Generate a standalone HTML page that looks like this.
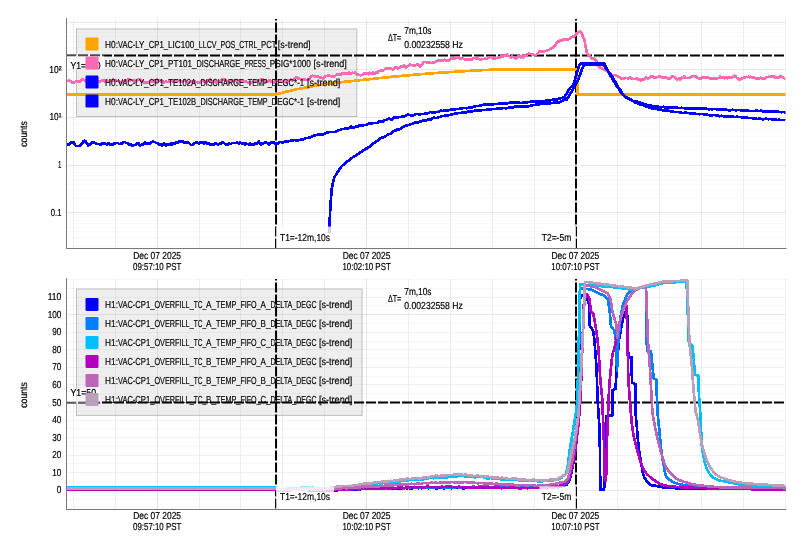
<!DOCTYPE html>
<html><head><meta charset="utf-8"><title>ndscope</title>
<style>html,body{margin:0;padding:0;background:#fff}svg{display:block;will-change:transform}</style></head>
<body>
<svg width="804" height="551" viewBox="0 0 804 551" font-family="Liberation Sans, Arial, sans-serif" text-rendering="geometricPrecision">
<rect width="804" height="551" fill="#fff"/>
<g id="gridTop">
<line x1="785.5" y1="19.0" x2="785.5" y2="248.0" stroke="#000" stroke-opacity="0.065" stroke-width="1"/>
<line x1="743.5" y1="19.0" x2="743.5" y2="248.0" stroke="#000" stroke-opacity="0.065" stroke-width="1"/>
<line x1="701.5" y1="19.0" x2="701.5" y2="248.0" stroke="#000" stroke-opacity="0.065" stroke-width="1"/>
<line x1="659.5" y1="19.0" x2="659.5" y2="248.0" stroke="#000" stroke-opacity="0.065" stroke-width="1"/>
<line x1="617.5" y1="19.0" x2="617.5" y2="248.0" stroke="#000" stroke-opacity="0.065" stroke-width="1"/>
<line x1="575.5" y1="19.0" x2="575.5" y2="248.0" stroke="#000" stroke-opacity="0.1" stroke-width="1"/>
<line x1="534.5" y1="19.0" x2="534.5" y2="248.0" stroke="#000" stroke-opacity="0.065" stroke-width="1"/>
<line x1="492.5" y1="19.0" x2="492.5" y2="248.0" stroke="#000" stroke-opacity="0.065" stroke-width="1"/>
<line x1="450.5" y1="19.0" x2="450.5" y2="248.0" stroke="#000" stroke-opacity="0.065" stroke-width="1"/>
<line x1="408.5" y1="19.0" x2="408.5" y2="248.0" stroke="#000" stroke-opacity="0.065" stroke-width="1"/>
<line x1="366.5" y1="19.0" x2="366.5" y2="248.0" stroke="#000" stroke-opacity="0.1" stroke-width="1"/>
<line x1="324.5" y1="19.0" x2="324.5" y2="248.0" stroke="#000" stroke-opacity="0.065" stroke-width="1"/>
<line x1="282.5" y1="19.0" x2="282.5" y2="248.0" stroke="#000" stroke-opacity="0.065" stroke-width="1"/>
<line x1="240.5" y1="19.0" x2="240.5" y2="248.0" stroke="#000" stroke-opacity="0.065" stroke-width="1"/>
<line x1="199.5" y1="19.0" x2="199.5" y2="248.0" stroke="#000" stroke-opacity="0.065" stroke-width="1"/>
<line x1="157.5" y1="19.0" x2="157.5" y2="248.0" stroke="#000" stroke-opacity="0.1" stroke-width="1"/>
<line x1="115.5" y1="19.0" x2="115.5" y2="248.0" stroke="#000" stroke-opacity="0.065" stroke-width="1"/>
<line x1="73.5" y1="19.0" x2="73.5" y2="248.0" stroke="#000" stroke-opacity="0.065" stroke-width="1"/>
<line x1="67.0" y1="246.5" x2="785.5" y2="246.5" stroke="#000" stroke-opacity="0.018" stroke-width="1"/>
<line x1="67.0" y1="237.5" x2="785.5" y2="237.5" stroke="#000" stroke-opacity="0.018" stroke-width="1"/>
<line x1="67.0" y1="231.5" x2="785.5" y2="231.5" stroke="#000" stroke-opacity="0.018" stroke-width="1"/>
<line x1="67.0" y1="227.5" x2="785.5" y2="227.5" stroke="#000" stroke-opacity="0.018" stroke-width="1"/>
<line x1="67.0" y1="223.5" x2="785.5" y2="223.5" stroke="#000" stroke-opacity="0.018" stroke-width="1"/>
<line x1="67.0" y1="220.5" x2="785.5" y2="220.5" stroke="#000" stroke-opacity="0.018" stroke-width="1"/>
<line x1="67.0" y1="217.5" x2="785.5" y2="217.5" stroke="#000" stroke-opacity="0.018" stroke-width="1"/>
<line x1="67.0" y1="214.5" x2="785.5" y2="214.5" stroke="#000" stroke-opacity="0.018" stroke-width="1"/>
<line x1="67.0" y1="198.5" x2="785.5" y2="198.5" stroke="#000" stroke-opacity="0.018" stroke-width="1"/>
<line x1="67.0" y1="190.5" x2="785.5" y2="190.5" stroke="#000" stroke-opacity="0.018" stroke-width="1"/>
<line x1="67.0" y1="184.5" x2="785.5" y2="184.5" stroke="#000" stroke-opacity="0.018" stroke-width="1"/>
<line x1="67.0" y1="179.5" x2="785.5" y2="179.5" stroke="#000" stroke-opacity="0.018" stroke-width="1"/>
<line x1="67.0" y1="175.5" x2="785.5" y2="175.5" stroke="#000" stroke-opacity="0.018" stroke-width="1"/>
<line x1="67.0" y1="172.5" x2="785.5" y2="172.5" stroke="#000" stroke-opacity="0.018" stroke-width="1"/>
<line x1="67.0" y1="169.5" x2="785.5" y2="169.5" stroke="#000" stroke-opacity="0.018" stroke-width="1"/>
<line x1="67.0" y1="167.5" x2="785.5" y2="167.5" stroke="#000" stroke-opacity="0.018" stroke-width="1"/>
<line x1="67.0" y1="150.5" x2="785.5" y2="150.5" stroke="#000" stroke-opacity="0.018" stroke-width="1"/>
<line x1="67.0" y1="142.5" x2="785.5" y2="142.5" stroke="#000" stroke-opacity="0.018" stroke-width="1"/>
<line x1="67.0" y1="136.5" x2="785.5" y2="136.5" stroke="#000" stroke-opacity="0.018" stroke-width="1"/>
<line x1="67.0" y1="131.5" x2="785.5" y2="131.5" stroke="#000" stroke-opacity="0.018" stroke-width="1"/>
<line x1="67.0" y1="128.5" x2="785.5" y2="128.5" stroke="#000" stroke-opacity="0.018" stroke-width="1"/>
<line x1="67.0" y1="124.5" x2="785.5" y2="124.5" stroke="#000" stroke-opacity="0.018" stroke-width="1"/>
<line x1="67.0" y1="122.5" x2="785.5" y2="122.5" stroke="#000" stroke-opacity="0.018" stroke-width="1"/>
<line x1="67.0" y1="119.5" x2="785.5" y2="119.5" stroke="#000" stroke-opacity="0.018" stroke-width="1"/>
<line x1="67.0" y1="103.5" x2="785.5" y2="103.5" stroke="#000" stroke-opacity="0.018" stroke-width="1"/>
<line x1="67.0" y1="94.5" x2="785.5" y2="94.5" stroke="#000" stroke-opacity="0.018" stroke-width="1"/>
<line x1="67.0" y1="88.5" x2="785.5" y2="88.5" stroke="#000" stroke-opacity="0.018" stroke-width="1"/>
<line x1="67.0" y1="84.5" x2="785.5" y2="84.5" stroke="#000" stroke-opacity="0.018" stroke-width="1"/>
<line x1="67.0" y1="80.5" x2="785.5" y2="80.5" stroke="#000" stroke-opacity="0.018" stroke-width="1"/>
<line x1="67.0" y1="77.5" x2="785.5" y2="77.5" stroke="#000" stroke-opacity="0.018" stroke-width="1"/>
<line x1="67.0" y1="74.5" x2="785.5" y2="74.5" stroke="#000" stroke-opacity="0.018" stroke-width="1"/>
<line x1="67.0" y1="72.5" x2="785.5" y2="72.5" stroke="#000" stroke-opacity="0.018" stroke-width="1"/>
<line x1="67.0" y1="55.5" x2="785.5" y2="55.5" stroke="#000" stroke-opacity="0.018" stroke-width="1"/>
<line x1="67.0" y1="47.5" x2="785.5" y2="47.5" stroke="#000" stroke-opacity="0.018" stroke-width="1"/>
<line x1="67.0" y1="41.5" x2="785.5" y2="41.5" stroke="#000" stroke-opacity="0.018" stroke-width="1"/>
<line x1="67.0" y1="36.5" x2="785.5" y2="36.5" stroke="#000" stroke-opacity="0.018" stroke-width="1"/>
<line x1="67.0" y1="32.5" x2="785.5" y2="32.5" stroke="#000" stroke-opacity="0.018" stroke-width="1"/>
<line x1="67.0" y1="29.5" x2="785.5" y2="29.5" stroke="#000" stroke-opacity="0.018" stroke-width="1"/>
<line x1="67.0" y1="27.5" x2="785.5" y2="27.5" stroke="#000" stroke-opacity="0.018" stroke-width="1"/>
<line x1="67.0" y1="24.5" x2="785.5" y2="24.5" stroke="#000" stroke-opacity="0.018" stroke-width="1"/>
<line x1="67.0" y1="22.5" x2="785.5" y2="22.5" stroke="#000" stroke-opacity="0.085" stroke-width="1"/>
<line x1="67.0" y1="69.5" x2="785.5" y2="69.5" stroke="#000" stroke-opacity="0.085" stroke-width="1"/>
<line x1="67.0" y1="117.5" x2="785.5" y2="117.5" stroke="#000" stroke-opacity="0.085" stroke-width="1"/>
<line x1="67.0" y1="165.5" x2="785.5" y2="165.5" stroke="#000" stroke-opacity="0.085" stroke-width="1"/>
<line x1="67.0" y1="212.5" x2="785.5" y2="212.5" stroke="#000" stroke-opacity="0.085" stroke-width="1"/>
</g>
<g id="gridBot">
<line x1="785.5" y1="279.0" x2="785.5" y2="509.0" stroke="#000" stroke-opacity="0.065" stroke-width="1"/>
<line x1="743.5" y1="279.0" x2="743.5" y2="509.0" stroke="#000" stroke-opacity="0.065" stroke-width="1"/>
<line x1="701.5" y1="279.0" x2="701.5" y2="509.0" stroke="#000" stroke-opacity="0.065" stroke-width="1"/>
<line x1="659.5" y1="279.0" x2="659.5" y2="509.0" stroke="#000" stroke-opacity="0.065" stroke-width="1"/>
<line x1="617.5" y1="279.0" x2="617.5" y2="509.0" stroke="#000" stroke-opacity="0.065" stroke-width="1"/>
<line x1="575.5" y1="279.0" x2="575.5" y2="509.0" stroke="#000" stroke-opacity="0.1" stroke-width="1"/>
<line x1="534.5" y1="279.0" x2="534.5" y2="509.0" stroke="#000" stroke-opacity="0.065" stroke-width="1"/>
<line x1="492.5" y1="279.0" x2="492.5" y2="509.0" stroke="#000" stroke-opacity="0.065" stroke-width="1"/>
<line x1="450.5" y1="279.0" x2="450.5" y2="509.0" stroke="#000" stroke-opacity="0.065" stroke-width="1"/>
<line x1="408.5" y1="279.0" x2="408.5" y2="509.0" stroke="#000" stroke-opacity="0.065" stroke-width="1"/>
<line x1="366.5" y1="279.0" x2="366.5" y2="509.0" stroke="#000" stroke-opacity="0.1" stroke-width="1"/>
<line x1="324.5" y1="279.0" x2="324.5" y2="509.0" stroke="#000" stroke-opacity="0.065" stroke-width="1"/>
<line x1="282.5" y1="279.0" x2="282.5" y2="509.0" stroke="#000" stroke-opacity="0.065" stroke-width="1"/>
<line x1="240.5" y1="279.0" x2="240.5" y2="509.0" stroke="#000" stroke-opacity="0.065" stroke-width="1"/>
<line x1="199.5" y1="279.0" x2="199.5" y2="509.0" stroke="#000" stroke-opacity="0.065" stroke-width="1"/>
<line x1="157.5" y1="279.0" x2="157.5" y2="509.0" stroke="#000" stroke-opacity="0.1" stroke-width="1"/>
<line x1="115.5" y1="279.0" x2="115.5" y2="509.0" stroke="#000" stroke-opacity="0.065" stroke-width="1"/>
<line x1="73.5" y1="279.0" x2="73.5" y2="509.0" stroke="#000" stroke-opacity="0.065" stroke-width="1"/>
<line x1="67.0" y1="499.5" x2="785.5" y2="499.5" stroke="#000" stroke-opacity="0.03" stroke-width="1"/>
<line x1="67.0" y1="481.5" x2="785.5" y2="481.5" stroke="#000" stroke-opacity="0.03" stroke-width="1"/>
<line x1="67.0" y1="463.5" x2="785.5" y2="463.5" stroke="#000" stroke-opacity="0.03" stroke-width="1"/>
<line x1="67.0" y1="446.5" x2="785.5" y2="446.5" stroke="#000" stroke-opacity="0.03" stroke-width="1"/>
<line x1="67.0" y1="428.5" x2="785.5" y2="428.5" stroke="#000" stroke-opacity="0.03" stroke-width="1"/>
<line x1="67.0" y1="411.5" x2="785.5" y2="411.5" stroke="#000" stroke-opacity="0.03" stroke-width="1"/>
<line x1="67.0" y1="393.5" x2="785.5" y2="393.5" stroke="#000" stroke-opacity="0.03" stroke-width="1"/>
<line x1="67.0" y1="376.5" x2="785.5" y2="376.5" stroke="#000" stroke-opacity="0.03" stroke-width="1"/>
<line x1="67.0" y1="358.5" x2="785.5" y2="358.5" stroke="#000" stroke-opacity="0.03" stroke-width="1"/>
<line x1="67.0" y1="341.5" x2="785.5" y2="341.5" stroke="#000" stroke-opacity="0.03" stroke-width="1"/>
<line x1="67.0" y1="323.5" x2="785.5" y2="323.5" stroke="#000" stroke-opacity="0.03" stroke-width="1"/>
<line x1="67.0" y1="305.5" x2="785.5" y2="305.5" stroke="#000" stroke-opacity="0.03" stroke-width="1"/>
<line x1="67.0" y1="288.5" x2="785.5" y2="288.5" stroke="#000" stroke-opacity="0.03" stroke-width="1"/>
<line x1="67.0" y1="507.5" x2="785.5" y2="507.5" stroke="#000" stroke-opacity="0.03" stroke-width="1"/>
<line x1="67.0" y1="279.5" x2="785.5" y2="279.5" stroke="#000" stroke-opacity="0.03" stroke-width="1"/>
<line x1="67.0" y1="472.5" x2="785.5" y2="472.5" stroke="#000" stroke-opacity="0.05" stroke-width="1"/>
<line x1="67.0" y1="455.5" x2="785.5" y2="455.5" stroke="#000" stroke-opacity="0.05" stroke-width="1"/>
<line x1="67.0" y1="437.5" x2="785.5" y2="437.5" stroke="#000" stroke-opacity="0.05" stroke-width="1"/>
<line x1="67.0" y1="420.5" x2="785.5" y2="420.5" stroke="#000" stroke-opacity="0.05" stroke-width="1"/>
<line x1="67.0" y1="402.5" x2="785.5" y2="402.5" stroke="#000" stroke-opacity="0.05" stroke-width="1"/>
<line x1="67.0" y1="384.5" x2="785.5" y2="384.5" stroke="#000" stroke-opacity="0.05" stroke-width="1"/>
<line x1="67.0" y1="367.5" x2="785.5" y2="367.5" stroke="#000" stroke-opacity="0.05" stroke-width="1"/>
<line x1="67.0" y1="349.5" x2="785.5" y2="349.5" stroke="#000" stroke-opacity="0.05" stroke-width="1"/>
<line x1="67.0" y1="332.5" x2="785.5" y2="332.5" stroke="#000" stroke-opacity="0.05" stroke-width="1"/>
<line x1="67.0" y1="297.5" x2="785.5" y2="297.5" stroke="#000" stroke-opacity="0.05" stroke-width="1"/>
<line x1="67.0" y1="490.5" x2="785.5" y2="490.5" stroke="#000" stroke-opacity="0.085" stroke-width="1"/>
<line x1="67.0" y1="314.5" x2="785.5" y2="314.5" stroke="#000" stroke-opacity="0.085" stroke-width="1"/>
</g>
<rect x="76.5" y="29.0" width="280.3" height="87.5" fill="#c6c6c6" fill-opacity="0.3" stroke="#bebebe" stroke-width="1"/>
<rect x="76.5" y="289.0" width="285.6" height="126.4" fill="#c6c6c6" fill-opacity="0.3" stroke="#bebebe" stroke-width="1"/>
<line x1="67.0" y1="55.5" x2="784.5" y2="55.5" stroke="#000" stroke-width="2" stroke-dasharray="10 2" stroke-dashoffset="1"/>
<line x1="67.0" y1="402.6" x2="784.5" y2="402.6" stroke="#000" stroke-width="2" stroke-dasharray="10 2" stroke-dashoffset="1"/>
<line x1="276.05" y1="19.0" x2="276.05" y2="248.0" stroke="#000" stroke-width="2" stroke-dasharray="10 2" stroke-dashoffset="8.5"/>
<line x1="576.0" y1="19.0" x2="576.0" y2="248.0" stroke="#000" stroke-width="2" stroke-dasharray="10 2" stroke-dashoffset="8.5"/>
<line x1="276.05" y1="279.0" x2="276.05" y2="509.0" stroke="#000" stroke-width="2" stroke-dasharray="10 2" stroke-dashoffset="8.5"/>
<line x1="576.0" y1="279.0" x2="576.0" y2="509.0" stroke="#000" stroke-width="2" stroke-dasharray="10 2" stroke-dashoffset="8.5"/>
<clipPath id="ct"><rect x="67.0" y="19.0" width="718.5" height="229.0"/></clipPath>
<g clip-path="url(#ct)">
<path d="M67.0 94.5 L276.0 94.5 L287.0 91.5 L298.0 89.0 L320.0 84.8 L345.0 81.8 L369.5 79.2 L394.0 76.6 L419.0 74.3 L440.0 72.7 L460.0 71.5 L475.0 70.5 L490.0 69.8 L577.0 69.8 L577.6 94.5 L785.5 94.5" fill="none" stroke="#ffa500" stroke-width="2.7" stroke-linejoin="round" shape-rendering="crispEdges" />
<path d="M67.0 81.2 L68.0 80.8 L69.0 80.5 L70.0 81.1 L71.0 81.5 L72.0 82.4 L73.0 82.6 L74.0 82.3 L75.0 82.2 L76.0 80.9 L77.0 81.2 L78.0 81.2 L79.0 81.4 L80.0 81.4 L81.0 80.1 L82.0 79.5 L83.0 79.0 L84.0 79.9 L85.0 80.8 L86.0 81.4 L87.0 81.3 L88.0 81.3 L89.0 81.5 L90.0 81.0 L91.0 82.1 L92.0 82.2 L93.0 82.6 L94.0 82.6 L95.0 81.4 L96.0 81.0 L97.0 80.4 L98.0 81.0 L99.0 81.5 L100.0 81.4 L101.0 81.0 L102.0 80.5 L103.0 80.9 L104.0 80.7 L105.0 81.3 L106.0 81.8 L107.0 80.5 L108.0 80.9 L109.0 81.4 L110.0 80.2 L111.0 80.8 L112.0 80.7 L113.0 79.7 L114.0 80.9 L115.0 81.0 L116.0 80.4 L117.0 81.1 L118.0 81.2 L119.0 81.7 L120.0 83.1 L121.0 82.8 L122.0 82.6 L123.0 81.5 L124.0 81.1 L125.0 80.7 L126.0 80.4 L127.0 80.4 L128.0 79.6 L129.0 79.7 L130.0 80.5 L131.0 80.1 L132.0 79.9 L133.0 80.3 L134.0 80.3 L135.0 81.6 L136.0 81.4 L137.0 80.1 L138.0 79.5 L139.0 78.9 L140.0 79.3 L141.0 80.9 L142.0 81.3 L143.0 81.7 L144.0 82.4 L145.0 82.1 L146.0 82.3 L147.0 82.6 L148.0 82.7 L149.0 82.7 L150.0 81.2 L151.0 81.5 L152.0 81.8 L153.0 81.7 L154.0 81.6 L155.0 80.6 L156.0 80.6 L157.0 79.5 L158.0 80.3 L159.0 81.1 L160.0 80.1 L161.0 81.7 L162.0 82.1 L163.0 81.5 L164.0 82.3 L165.0 81.8 L166.0 81.6 L167.0 82.2 L168.0 81.8 L169.0 81.2 L170.0 81.7 L171.0 81.1 L172.0 81.0 L173.0 81.7 L174.0 81.9 L175.0 81.7 L176.0 81.4 L177.0 80.9 L178.0 80.1 L179.0 80.2 L180.0 81.5 L181.0 81.1 L182.0 81.8 L183.0 81.3 L184.0 80.3 L185.0 81.1 L186.0 81.0 L187.0 82.0 L188.0 82.5 L189.0 82.3 L190.0 81.8 L191.0 81.7 L192.0 81.5 L193.0 81.5 L194.0 81.7 L195.0 81.4 L196.0 81.9 L197.0 82.0 L198.0 82.7 L199.0 82.9 L200.0 82.3 L201.0 81.8 L202.0 80.9 L203.0 81.2 L204.0 81.2 L205.0 81.6 L206.0 82.4 L207.0 80.8 L208.0 80.4 L209.0 80.3 L210.0 79.6 L211.0 81.0 L212.0 81.3 L213.0 81.5 L214.0 81.4 L215.0 81.1 L216.0 82.4 L217.0 82.3 L218.0 81.9 L219.0 82.1 L220.0 80.8 L221.0 80.6 L222.0 79.6 L223.0 79.4 L224.0 80.0 L225.0 79.5 L226.0 80.7 L227.0 81.4 L228.0 81.3 L229.0 82.6 L230.0 81.8 L231.0 81.2 L232.0 80.6 L233.0 80.2 L234.0 81.5 L235.0 80.4 L236.0 81.1 L237.0 80.1 L238.0 79.9 L239.0 80.5 L240.0 80.1 L241.0 81.3 L242.0 80.9 L243.0 81.7 L244.0 82.0 L245.0 81.5 L246.0 81.5 L247.0 82.2 L248.0 82.3 L249.0 82.1 L250.0 83.4 L251.0 82.2 L252.0 82.1 L253.0 82.1 L254.0 80.9 L255.0 81.7 L256.0 81.4 L257.0 81.8 L258.0 81.0 L259.0 80.0 L260.0 80.2 L261.0 79.4 L262.0 79.7 L263.0 79.7 L264.0 80.0 L265.0 80.8 L266.0 82.0 L267.0 82.2 L268.0 81.6 L269.0 80.7 L270.0 80.4 L271.0 81.6 L272.0 81.2 L273.0 82.4 L274.0 82.5 L275.0 81.7 L276.0 81.2 L277.0 81.0 L278.0 80.4 L279.0 80.1 L280.0 81.2 L281.0 80.6 L282.0 81.3 L283.0 81.0 L284.0 81.2 L285.0 81.7 L286.0 81.5 L287.0 81.9 L288.0 80.9 L289.0 80.6 L290.0 79.8 L291.0 79.9 L292.0 80.8 L293.0 80.1 L294.0 78.9 L295.0 78.5 L296.0 76.9 L297.0 77.3 L298.0 78.5 L299.0 78.3 L300.0 79.1 L301.0 79.0 L302.0 78.8 L303.0 79.6 L304.0 79.5 L305.0 79.5 L306.0 80.1 L307.0 80.1 L308.0 79.7 L309.0 79.6 L310.0 77.9 L311.0 76.5 L312.0 75.8 L313.0 75.8 L314.0 76.0 L315.0 76.4 L316.0 77.2 L317.0 76.6 L318.0 76.8 L319.0 76.8 L320.0 77.7 L321.0 77.6 L322.0 78.1 L323.0 78.4 L324.0 77.3 L325.1 76.6 L326.1 76.0 L327.1 76.0 L328.1 75.2 L329.1 75.4 L330.1 76.1 L331.1 75.9 L332.1 76.6 L333.1 77.2 L334.1 76.7 L335.2 75.7 L336.2 74.9 L337.2 74.1 L338.2 74.4 L339.2 74.6 L340.2 74.8 L341.2 74.7 L342.2 73.4 L343.2 73.5 L344.2 73.3 L345.3 73.8 L346.3 73.3 L347.3 73.4 L348.3 73.6 L349.3 72.4 L350.3 73.8 L351.3 73.5 L352.3 72.6 L353.3 73.0 L354.3 72.8 L355.4 72.6 L356.4 73.9 L357.4 74.6 L358.4 74.7 L359.4 75.0 L360.4 75.2 L361.4 75.1 L362.4 74.9 L363.4 73.7 L364.4 73.4 L365.5 73.6 L366.5 73.2 L367.5 73.8 L368.5 74.3 L369.5 72.7 L370.5 72.9 L371.5 74.0 L372.6 72.4 L373.6 73.3 L374.6 73.8 L375.6 72.3 L376.6 72.8 L377.7 72.7 L378.7 71.1 L379.7 70.9 L380.7 70.5 L381.8 70.3 L382.8 70.4 L383.8 70.2 L384.8 69.3 L385.8 68.5 L386.9 68.7 L387.9 68.6 L388.9 68.5 L389.9 68.0 L390.9 68.6 L392.0 68.9 L393.0 69.3 L394.0 68.3 L395.0 67.2 L396.0 66.8 L397.0 67.1 L398.0 68.4 L399.0 68.0 L400.0 67.9 L401.0 66.1 L402.0 66.2 L403.0 66.3 L404.0 65.6 L405.0 67.0 L406.0 67.3 L407.0 66.3 L408.0 66.2 L409.0 65.6 L410.0 64.7 L411.0 65.1 L412.0 64.8 L413.0 65.6 L414.0 65.8 L415.0 65.3 L416.0 65.1 L417.0 64.7 L418.0 64.6 L419.0 65.9 L420.0 66.8 L421.0 65.4 L422.0 64.9 L423.0 62.8 L424.0 61.9 L425.0 62.2 L426.0 62.1 L427.0 62.6 L428.0 62.8 L429.0 62.9 L430.0 62.6 L431.0 63.1 L432.0 63.1 L433.0 62.6 L434.0 62.6 L435.0 62.2 L436.0 61.5 L437.0 61.2 L438.0 60.7 L439.0 60.5 L440.0 60.8 L441.0 60.9 L442.0 60.8 L443.0 60.7 L444.0 59.8 L445.0 59.9 L446.0 60.3 L447.0 60.4 L448.0 60.9 L449.0 60.8 L450.0 59.7 L451.0 58.5 L452.0 58.6 L453.0 57.8 L454.0 58.6 L455.0 58.9 L456.0 57.5 L457.0 57.4 L458.0 57.7 L459.0 57.9 L460.0 58.4 L461.0 58.5 L462.0 57.9 L463.0 58.2 L464.0 58.8 L465.0 59.8 L466.0 59.8 L467.0 59.5 L468.0 59.6 L469.0 59.6 L470.0 59.7 L471.0 60.1 L472.0 59.3 L473.0 58.3 L474.0 58.2 L475.0 57.5 L476.0 58.4 L477.0 58.7 L478.0 58.8 L479.0 58.8 L480.0 59.4 L481.0 59.7 L482.0 59.1 L483.0 59.2 L484.0 59.1 L485.0 58.3 L486.0 58.8 L487.0 59.2 L488.0 58.0 L489.0 57.5 L490.0 57.2 L491.0 56.9 L492.0 57.4 L493.0 58.3 L494.0 58.2 L495.0 58.4 L496.0 58.1 L497.0 57.8 L498.0 57.8 L499.0 57.3 L500.0 57.3 L501.0 56.7 L502.0 56.4 L503.0 56.5 L504.0 55.4 L505.0 55.7 L506.0 55.0 L507.0 54.7 L508.0 55.6 L509.0 56.1 L510.0 57.0 L511.1 57.3 L512.1 56.4 L513.1 57.0 L514.2 57.4 L515.2 58.0 L516.3 58.4 L517.4 57.5 L518.4 56.4 L519.5 56.3 L520.5 57.2 L521.6 56.5 L522.6 57.4 L523.7 57.4 L524.7 56.1 L525.8 55.7 L526.9 54.8 L528.0 53.8 L529.1 53.5 L530.2 53.9 L531.3 54.1 L532.4 54.3 L533.5 54.8 L534.6 55.1 L535.6 55.4 L536.7 54.3 L537.7 53.6 L538.7 52.2 L539.8 51.0 L540.8 51.4 L541.8 51.5 L542.9 52.1 L543.9 51.7 L544.9 51.0 L546.0 50.8 L547.0 50.4 L548.1 50.1 L549.1 49.9 L550.2 48.7 L551.3 48.3 L552.4 47.8 L553.4 47.0 L554.5 46.2 L555.6 45.1 L556.6 42.9 L557.7 41.8 L558.8 41.4 L559.9 40.1 L560.9 40.7 L562.0 40.6 L563.1 39.6 L564.1 39.8 L565.2 39.2 L566.3 39.0 L567.4 39.6 L568.4 39.4 L569.5 38.8 L570.6 37.9 L571.6 37.0 L572.7 36.7 L573.8 36.6 L574.9 35.7 L575.9 34.5 L577.0 33.4 L578.2 32.4 L579.4 31.7 L580.6 31.8 L581.9 34.1 L583.1 36.8 L584.4 39.9 L585.6 46.0 L586.9 53.5 L588.1 54.6 L589.3 56.1 L590.6 57.6 L591.8 58.3 L592.9 58.4 L593.9 58.5 L595.0 59.7 L596.1 60.5 L597.2 63.8 L598.2 65.4 L599.3 67.0 L600.3 67.8 L601.3 68.0 L602.3 68.8 L603.3 68.9 L604.3 69.6 L605.3 69.4 L606.3 70.5 L607.3 70.9 L608.3 71.6 L609.3 73.9 L610.4 73.7 L611.5 74.6 L612.6 75.5 L613.7 74.9 L614.8 75.1 L615.9 75.7 L617.0 75.8 L618.1 76.6 L619.2 77.1 L620.3 77.9 L621.3 78.6 L622.4 78.4 L623.4 79.0 L624.5 78.1 L625.5 78.1 L626.6 77.9 L627.7 78.2 L628.7 78.3 L629.8 77.4 L630.8 78.2 L631.9 78.7 L632.9 79.0 L634.0 79.1 L635.0 79.2 L636.0 78.5 L637.0 78.6 L638.0 79.6 L639.0 79.7 L640.0 79.5 L641.0 80.4 L642.0 79.6 L643.0 79.4 L644.0 79.3 L645.0 78.2 L646.0 77.3 L647.0 77.8 L648.0 78.7 L649.0 78.1 L650.0 78.2 L651.0 76.5 L652.0 76.4 L653.0 76.7 L654.0 77.4 L655.0 78.0 L656.0 77.3 L657.0 77.0 L658.0 77.0 L659.0 76.5 L660.0 76.5 L661.0 77.1 L662.0 77.4 L663.0 77.9 L664.0 77.5 L665.0 77.5 L666.0 77.0 L667.0 77.9 L668.0 78.7 L669.0 78.5 L670.1 78.5 L671.1 77.5 L672.1 76.6 L673.1 76.5 L674.1 76.9 L675.1 77.5 L676.1 78.2 L677.1 79.4 L678.1 78.9 L679.1 78.6 L680.1 79.7 L681.1 77.8 L682.1 77.9 L683.1 78.0 L684.1 76.7 L685.1 77.8 L686.1 77.9 L687.1 78.0 L688.1 78.0 L689.1 78.2 L690.1 77.4 L691.2 76.8 L692.2 76.7 L693.2 75.9 L694.2 76.3 L695.2 77.0 L696.2 76.7 L697.2 77.5 L698.2 78.3 L699.2 78.2 L700.2 78.7 L701.2 78.4 L702.2 77.4 L703.2 77.2 L704.2 77.2 L705.2 77.0 L706.2 77.6 L707.2 78.0 L708.2 77.3 L709.2 77.9 L710.2 78.8 L711.2 78.2 L712.3 78.7 L713.3 78.3 L714.3 78.2 L715.3 78.6 L716.3 78.9 L717.3 78.7 L718.3 77.9 L719.3 77.8 L720.3 76.5 L721.3 77.5 L722.3 78.0 L723.3 77.1 L724.3 78.3 L725.3 77.6 L726.3 77.4 L727.3 78.4 L728.3 77.3 L729.3 77.3 L730.3 77.8 L731.3 77.3 L732.3 77.5 L733.4 77.0 L734.4 75.7 L735.4 76.1 L736.4 77.4 L737.4 78.3 L738.4 79.0 L739.4 79.9 L740.4 78.8 L741.4 78.3 L742.4 78.4 L743.4 77.6 L744.4 77.4 L745.4 77.2 L746.4 77.1 L747.4 76.9 L748.4 76.8 L749.4 77.2 L750.4 76.8 L751.4 76.9 L752.4 77.5 L753.4 77.6 L754.5 77.7 L755.5 77.9 L756.5 78.7 L757.5 78.5 L758.5 79.1 L759.5 78.2 L760.5 77.6 L761.5 78.1 L762.5 78.4 L763.5 78.6 L764.5 78.6 L765.5 78.3 L766.5 76.9 L767.5 77.1 L768.5 76.8 L769.5 76.9 L770.5 77.0 L771.5 76.1 L772.5 76.4 L773.5 76.4 L774.5 76.6 L775.6 78.0 L776.6 77.9 L777.6 77.4 L778.6 77.9 L779.6 76.8 L780.6 76.6 L781.6 76.9 L782.6 77.0 L783.6 77.7 L784.6 78.2 L785.6 77.9" fill="none" stroke="#ff69b4" stroke-width="2.7" stroke-linejoin="round" shape-rendering="crispEdges" />
<path d="M67.0 144.9 L68.0 144.1 L69.0 145.0 L70.0 143.0 L71.0 142.2 L72.0 142.5 L73.0 142.9 L74.0 142.7 L75.0 144.8 L76.0 146.1 L77.0 145.9 L78.0 146.0 L79.0 145.8 L80.0 145.3 L81.0 144.5 L82.0 144.1 L83.0 141.7 L84.0 141.9 L85.0 140.8 L86.0 142.0 L87.0 143.4 L88.0 145.3 L89.0 144.7 L90.0 144.7 L91.0 143.7 L92.0 142.1 L93.0 142.5 L94.0 142.7 L95.0 143.0 L96.0 143.3 L97.0 144.2 L98.0 144.1 L99.0 144.0 L100.0 144.4 L101.0 144.4 L102.0 143.2 L103.0 143.7 L104.0 144.1 L105.0 143.2 L106.0 143.9 L107.0 144.7 L108.0 143.0 L109.0 143.6 L110.0 144.4 L111.0 144.3 L112.0 144.2 L113.0 145.0 L114.0 143.2 L115.0 143.6 L116.0 143.1 L117.0 142.8 L118.0 143.1 L119.0 144.0 L120.0 143.8 L121.0 143.6 L122.0 143.7 L123.0 142.3 L124.0 142.1 L125.0 142.1 L126.0 143.0 L127.0 142.8 L128.0 144.0 L129.0 145.1 L130.0 144.5 L131.0 144.2 L132.0 145.3 L133.0 145.4 L134.0 145.2 L135.0 145.0 L136.0 144.7 L137.0 143.7 L138.0 143.8 L139.0 143.7 L140.0 145.4 L141.0 144.9 L142.0 144.7 L143.0 144.9 L144.0 143.7 L145.0 142.6 L146.0 143.3 L147.0 143.5 L148.0 143.5 L149.0 143.2 L150.0 143.3 L151.0 142.2 L152.0 141.9 L153.0 141.3 L154.0 142.0 L155.0 142.0 L156.0 142.9 L157.0 143.1 L158.0 143.7 L159.0 144.8 L160.0 144.3 L161.0 144.5 L162.0 145.4 L163.0 145.2 L164.0 143.6 L165.0 145.0 L166.0 146.1 L167.0 144.3 L168.0 144.1 L169.0 145.0 L170.0 144.2 L171.0 143.3 L172.0 144.3 L173.0 143.7 L174.0 143.5 L175.0 143.6 L176.0 142.6 L177.0 142.2 L178.0 142.7 L179.0 141.6 L180.0 140.9 L181.0 141.2 L182.0 142.1 L183.0 141.7 L184.0 142.3 L185.0 142.2 L186.0 142.4 L187.0 141.8 L188.0 142.2 L189.0 143.1 L190.0 144.0 L191.0 145.0 L192.0 144.9 L193.0 144.6 L194.0 142.8 L195.0 143.2 L196.0 141.9 L197.0 142.3 L198.0 142.8 L199.0 143.4 L200.0 142.6 L201.0 143.0 L202.0 142.0 L203.0 141.9 L204.0 143.3 L205.0 142.0 L206.0 142.5 L207.0 143.6 L208.0 143.7 L209.0 143.3 L210.0 145.1 L211.0 144.5 L212.0 144.9 L213.0 144.4 L214.0 144.5 L215.0 143.3 L216.0 143.4 L217.0 143.9 L218.0 144.4 L219.0 143.9 L220.0 143.7 L221.0 143.3 L222.0 142.4 L223.0 142.7 L224.0 143.0 L225.0 144.0 L226.0 144.4 L227.0 145.0 L228.0 144.3 L229.0 143.7 L230.0 143.9 L231.0 144.0 L232.0 143.1 L233.0 143.0 L234.0 143.2 L235.0 143.0 L236.0 143.2 L237.0 142.6 L238.0 143.2 L239.0 143.4 L240.0 142.5 L241.0 142.8 L242.0 143.3 L243.0 142.9 L244.0 143.2 L245.0 144.5 L246.0 143.7 L247.0 144.1 L248.0 143.8 L249.0 144.6 L250.0 143.6 L251.0 144.7 L252.0 144.1 L253.0 145.0 L254.0 144.9 L255.0 143.8 L256.0 142.9 L257.0 143.5 L258.0 143.0 L259.0 141.4 L260.0 144.0 L261.0 144.3 L262.0 143.1 L263.0 143.6 L264.0 143.1 L265.0 142.5 L266.0 142.1 L267.0 143.1 L268.0 143.4 L269.0 144.4 L270.0 143.0 L271.0 142.3 L272.0 142.9 L273.0 142.6 L274.0 142.1 L275.0 143.4 L276.0 144.6 L276.0 142.8 L277.0 143.4 L278.0 143.5 L279.0 142.5 L280.0 142.2 L281.0 142.0 L282.0 143.0 L283.0 142.6 L284.0 142.2 L285.0 141.5 L286.0 141.8 L287.0 141.6 L288.0 141.7 L289.0 141.1 L290.0 141.1 L291.0 140.7 L292.0 140.8 L293.0 140.5 L294.0 140.1 L295.0 140.2 L296.0 140.4 L297.0 140.5 L298.0 140.2 L299.0 140.2 L300.0 140.0 L301.0 139.7 L302.0 139.3 L303.0 139.4 L304.0 139.1 L305.0 138.2 L306.0 138.1 L307.0 138.0 L308.0 138.2 L309.0 137.6 L310.0 137.3 L311.0 136.9 L312.0 136.5 L313.0 136.0 L314.0 135.7 L315.0 135.5 L316.0 135.1 L317.0 135.1 L318.0 134.7 L319.0 134.9 L320.0 134.2 L321.0 134.4 L322.0 134.3 L323.0 134.4 L324.0 133.9 L325.0 133.4 L326.0 133.1 L327.0 132.7 L328.0 132.3 L329.0 132.1 L330.0 132.1 L331.0 132.1 L332.0 132.0 L333.0 132.1 L334.0 132.0 L335.0 131.8 L336.0 131.3 L337.0 130.9 L338.0 130.4 L339.0 130.2 L340.0 129.9 L341.0 129.4 L342.0 129.2 L343.0 129.0 L344.0 128.9 L345.0 128.8 L346.0 128.7 L347.0 128.7 L348.0 129.0 L349.0 128.0 L350.0 127.8 L351.0 126.7 L352.0 127.4 L353.0 127.8 L354.0 127.5 L355.0 127.1 L356.0 126.4 L357.0 126.7 L358.0 126.6 L359.0 125.7 L360.0 125.8 L361.0 125.6 L362.0 125.9 L363.0 125.4 L364.0 125.2 L365.0 124.9 L366.0 124.9 L367.0 124.4 L368.0 123.8 L369.0 123.6 L370.0 123.5 L371.0 124.0 L372.0 123.5 L373.0 123.2 L374.0 122.9 L375.0 122.9 L376.0 123.0 L377.0 123.0 L378.0 122.5 L379.0 121.5 L380.0 121.0 L381.0 121.3 L382.0 121.7 L383.0 121.5 L384.0 120.7 L385.0 120.1 L386.0 119.9 L387.0 119.5 L388.0 119.0 L389.0 118.4 L390.0 118.9 L391.0 119.5 L392.0 119.3 L393.0 118.3 L394.0 117.7 L395.0 117.4 L396.0 117.7 L397.0 117.5 L398.0 117.3 L399.0 117.2 L400.0 116.9 L401.0 117.1 L402.0 116.6 L403.0 116.6 L404.0 116.4 L405.0 116.1 L406.0 115.6 L407.0 114.9 L408.0 114.7 L409.0 114.8 L410.0 115.1 L411.0 115.3 L412.0 115.5 L413.0 115.3 L414.0 115.0 L415.0 114.6 L416.0 113.9 L417.0 113.9 L418.0 114.1 L419.0 114.5 L420.0 114.4 L421.0 114.1 L422.0 114.0 L423.0 113.9 L424.0 114.0 L425.0 113.7 L426.0 113.6 L427.0 113.6 L428.0 113.1 L429.0 112.8 L430.0 112.2 L431.0 112.0 L432.0 112.3 L433.0 112.7 L434.0 112.7 L435.0 112.3 L436.0 112.0 L437.0 112.1 L438.0 112.1 L439.0 111.3 L440.0 110.8 L441.0 110.5 L442.0 111.0 L443.0 111.0 L444.0 110.5 L445.0 109.9 L445.0 110.2 L446.0 110.2 L447.0 110.2 L448.0 110.3 L449.0 110.2 L450.0 109.8 L451.0 109.6 L452.0 109.6 L453.0 109.6 L454.0 109.6 L455.0 109.3 L456.0 109.2 L457.0 109.0 L458.0 108.9 L459.0 108.9 L460.0 108.6 L461.0 108.4 L462.0 108.2 L463.0 108.2 L464.0 108.1 L465.0 108.0 L466.0 108.2 L467.0 108.2 L468.0 108.1 L469.0 107.5 L470.0 107.6 L471.0 107.4 L472.0 107.3 L473.0 106.8 L474.0 106.6 L475.0 106.3 L476.0 106.2 L477.0 106.1 L478.0 106.0 L479.0 105.8 L480.0 105.5 L481.0 105.5 L482.0 105.2 L483.0 104.9 L484.0 104.5 L485.0 104.3 L486.0 104.3 L487.0 104.3 L488.0 104.3 L489.0 104.2 L490.0 104.2 L491.0 104.3 L492.0 104.5 L493.0 104.4 L494.0 104.2 L495.0 104.1 L496.0 104.0 L497.0 104.0 L498.0 104.0 L499.0 103.7 L500.0 103.5 L501.0 103.4 L502.0 103.7 L503.0 103.6 L504.0 103.6 L505.0 103.8 L506.0 103.7 L507.0 103.5 L508.0 103.0 L509.0 102.8 L510.0 102.6 L511.0 102.8 L512.0 102.9 L513.1 102.8 L514.1 102.6 L515.1 102.6 L516.1 102.7 L517.2 102.7 L518.2 102.6 L519.2 102.8 L520.2 103.0 L521.3 103.0 L522.3 102.8 L523.3 102.5 L524.4 102.6 L525.4 102.6 L526.4 102.5 L527.4 102.3 L528.5 102.1 L529.5 102.0 L530.5 101.9 L531.5 101.6 L532.6 101.5 L533.6 101.3 L534.6 101.5 L535.6 101.5 L536.7 101.5 L537.7 101.4 L538.8 101.4 L539.8 101.2 L540.9 101.2 L541.9 101.1 L543.0 101.5 L544.0 101.1 L545.1 101.0 L546.1 100.7 L547.2 100.8 L548.2 100.7 L549.3 100.7 L550.3 100.4 L551.4 100.1 L552.4 99.8 L553.5 99.8 L554.5 99.8 L555.5 99.7 L556.5 99.5 L557.5 99.3 L558.5 98.9 L559.5 98.5 L560.5 98.3 L561.5 98.1 L562.5 97.9 L563.5 97.5 L564.5 97.3 L565.5 95.4 L566.5 93.8 L567.5 92.0 L568.5 90.3 L569.5 88.6 L570.7 87.3 L571.8 86.4 L573.0 85.2 L574.4 81.2 L575.7 77.1 L576.8 73.3 L577.9 69.9 L579.0 66.0 L580.6 63.6 L604.3 63.5 L609.3 73.5 L609.3 73.5 L610.5 75.6 L611.8 77.9 L613.0 80.1 L614.2 82.2 L615.3 83.4 L616.3 85.2 L617.4 87.2 L618.5 88.4 L619.6 90.0 L620.6 91.9 L621.7 93.6 L622.7 94.2 L623.8 95.1 L624.8 96.0 L625.9 96.9 L626.9 97.7 L628.0 98.3 L629.0 99.0 L630.0 99.2 L631.0 99.7 L632.0 100.4 L633.0 100.8 L634.0 101.1 L635.0 101.2 L636.1 101.1 L637.1 101.4 L638.2 101.9 L639.2 102.2 L640.3 102.7 L641.4 103.1 L642.4 103.3 L643.5 103.6 L644.5 104.0 L645.6 104.3 L646.6 104.7 L647.6 105.0 L648.7 105.0 L649.7 104.9 L650.7 105.4 L651.8 105.8 L652.8 106.0 L653.8 105.9 L654.9 105.9 L655.9 106.4 L656.9 106.4 L658.0 106.5 L659.0 107.0 L660.0 107.3 L661.1 107.5 L662.1 107.2 L663.1 106.8 L664.2 107.1 L665.2 107.5 L666.2 107.5 L667.3 107.2 L668.3 107.3 L669.3 107.6 L670.3 107.7 L671.4 107.5 L672.4 107.5 L673.4 107.7 L674.5 107.7 L675.5 107.3 L676.5 107.5 L677.6 107.9 L678.6 107.9 L679.6 108.0 L680.7 107.9 L681.7 107.8 L682.8 107.9 L683.8 108.0 L684.8 108.4 L685.9 108.3 L686.9 108.4 L687.9 108.7 L689.0 108.5 L690.0 108.5 L691.0 108.6 L692.1 108.6 L693.1 108.3 L694.2 108.3 L695.2 108.4 L696.2 108.8 L697.3 108.8 L698.3 108.7 L699.4 108.7 L700.4 108.7 L701.4 108.5 L702.5 108.7 L703.5 108.9 L704.5 108.6 L705.6 108.6 L706.6 108.7 L707.6 109.0 L708.7 109.3 L709.7 109.1 L710.8 109.1 L711.8 109.5 L712.8 109.3 L713.9 109.0 L714.9 109.0 L716.0 109.2 L717.0 109.4 L718.0 109.5 L719.1 109.2 L720.1 109.3 L721.1 109.5 L722.2 109.6 L723.2 109.7 L724.2 109.5 L725.3 109.6 L726.3 109.7 L727.4 110.1 L728.4 110.3 L729.4 110.2 L730.4 110.2 L731.5 109.9 L732.5 109.8 L733.5 110.0 L734.5 110.0 L735.6 110.2 L736.6 110.2 L737.6 110.1 L738.6 110.1 L739.7 109.9 L740.7 110.2 L741.7 110.7 L742.8 110.7 L743.8 110.4 L744.8 110.0 L745.8 110.2 L746.9 110.8 L747.9 110.8 L748.9 110.8 L749.9 111.0 L751.0 111.1 L752.0 110.9 L753.0 110.9 L754.0 111.1 L755.0 110.8 L756.1 110.6 L757.1 110.7 L758.1 110.8 L759.1 111.1 L760.1 111.0 L761.1 110.7 L762.2 111.0 L763.2 111.4 L764.2 111.5 L765.2 111.3 L766.2 111.3 L767.3 111.8 L768.3 111.9 L769.3 111.7 L770.3 111.4 L771.3 111.5 L772.4 111.6 L773.4 111.8 L774.4 111.7 L775.4 111.4 L776.4 111.6 L777.5 111.7 L778.5 111.8 L779.5 111.9 L780.5 112.1 L781.5 112.2 L782.5 112.0 L783.6 111.9 L784.6 112.3 L785.6 112.2" fill="none" stroke="#0000ff" stroke-width="2.7" stroke-linejoin="round" shape-rendering="crispEdges" />
<path d="M329.4 232.9 L330.0 212.9 L331.6 189.6 L333.0 182.9 L334.4 176.7 L335.6 175.5 L336.8 173.4 L338.0 171.7 L339.2 169.4 L340.3 168.2 L341.4 166.7 L342.5 165.5 L343.6 164.6 L344.7 163.7 L345.8 162.7 L346.9 161.8 L348.0 161.1 L349.1 160.0 L350.1 159.3 L351.2 158.4 L352.3 157.6 L353.4 157.0 L354.5 156.4 L355.6 155.8 L356.7 155.0 L357.8 154.2 L358.9 153.4 L359.9 152.9 L361.0 151.8 L362.1 151.4 L363.2 150.3 L364.3 149.8 L365.4 149.3 L366.5 148.4 L367.6 148.1 L368.7 147.0 L369.8 146.7 L370.9 145.3 L371.9 144.6 L373.0 143.7 L374.1 143.1 L375.2 142.0 L376.3 141.3 L377.4 140.8 L378.5 140.1 L379.5 138.9 L380.6 138.3 L381.7 137.9 L382.8 137.4 L383.9 137.1 L384.9 136.3 L386.0 135.8 L387.1 135.1 L388.2 134.5 L389.3 134.1 L390.4 133.7 L391.5 133.2 L392.6 132.3 L393.6 131.2 L394.7 130.6 L395.8 130.5 L396.9 129.8 L398.0 129.8 L399.1 129.4 L400.2 128.9 L401.3 128.2 L402.4 126.9 L403.5 126.8 L404.6 126.2 L405.7 125.9 L406.8 125.2 L407.8 125.2 L408.9 124.9 L409.9 124.6 L411.0 124.1 L412.0 123.9 L413.1 123.4 L414.1 123.2 L415.1 122.5 L416.2 122.4 L417.2 122.5 L418.3 122.6 L419.3 122.1 L420.3 121.6 L421.4 121.1 L422.4 120.8 L423.4 120.3 L424.4 120.4 L425.5 120.6 L426.5 120.5 L427.5 119.9 L428.6 119.3 L429.6 119.4 L430.6 119.4 L431.6 119.1 L432.7 118.2 L433.7 117.6 L434.7 118.0 L435.8 118.0 L436.8 118.0 L437.8 117.3 L438.9 117.2 L439.9 117.0 L440.9 116.4 L441.9 116.0 L443.0 116.1 L444.0 116.0 L444.0 115.8 L445.0 115.9 L446.0 115.7 L447.0 115.5 L448.0 115.3 L449.0 115.1 L450.0 114.9 L451.0 114.6 L452.0 114.4 L453.0 114.2 L454.0 113.8 L455.0 113.7 L456.0 113.4 L457.0 113.4 L458.0 113.1 L459.0 113.2 L460.0 113.1 L461.0 113.1 L462.0 112.7 L463.0 112.4 L464.0 112.3 L465.0 112.3 L466.0 112.4 L467.0 111.9 L468.0 111.8 L469.0 111.5 L470.0 111.6 L471.0 111.4 L472.0 111.5 L473.0 111.2 L474.0 111.0 L475.0 110.7 L476.0 110.8 L477.0 110.7 L478.0 110.7 L479.0 110.4 L480.0 110.3 L481.0 110.2 L482.0 110.2 L483.0 110.1 L484.0 110.1 L485.0 110.0 L486.0 109.9 L487.0 109.8 L488.0 109.9 L489.0 109.8 L490.0 109.8 L491.0 109.4 L492.0 109.2 L493.0 109.0 L494.0 109.2 L495.0 109.0 L496.0 108.9 L497.0 108.7 L498.0 108.7 L499.0 108.8 L500.0 108.7 L501.0 108.7 L502.0 108.3 L503.0 108.1 L504.0 108.0 L505.0 108.1 L506.0 108.3 L507.0 108.0 L508.0 107.9 L509.0 107.6 L510.0 107.6 L511.0 107.4 L512.0 107.5 L513.1 107.3 L514.1 107.1 L515.1 106.7 L516.1 106.7 L517.2 106.8 L518.2 106.8 L519.2 106.6 L520.2 106.4 L521.3 106.3 L522.3 106.2 L523.3 106.2 L524.4 106.3 L525.4 106.2 L526.4 106.3 L527.4 106.2 L528.5 106.3 L529.5 106.1 L530.5 105.8 L531.5 105.5 L532.6 105.2 L533.6 105.0 L534.6 104.9 L535.6 104.7 L536.7 104.9 L537.7 104.8 L538.8 104.7 L539.8 104.2 L540.8 104.0 L541.9 103.8 L542.9 103.8 L543.9 103.6 L545.0 103.2 L546.0 103.3 L547.0 103.3 L548.1 103.7 L549.1 103.5 L550.2 103.4 L551.2 103.1 L552.2 103.0 L553.3 103.0 L554.3 102.6 L555.4 102.4 L556.4 102.4 L557.4 102.5 L558.5 102.6 L559.5 102.3 L560.6 101.7 L561.6 101.0 L562.7 100.7 L563.8 100.1 L564.9 99.9 L565.9 99.5 L567.0 99.4 L568.0 97.6 L569.0 95.9 L570.0 94.1 L571.0 92.5 L572.0 90.6 L573.0 89.1 L574.0 87.6 L575.0 85.9 L576.0 84.0 L577.0 82.0 L578.2 79.3 L579.5 76.4 L580.7 73.2 L581.9 69.6 L583.1 66.7 L584.4 64.2 L603.0 64.3 L606.8 69.8 L606.8 69.7 L608.0 71.2 L609.2 72.6 L610.5 74.3 L611.7 76.0 L612.7 77.7 L613.7 79.4 L614.7 80.8 L615.7 82.8 L616.7 84.6 L617.7 86.3 L618.8 88.0 L619.8 89.3 L620.9 91.0 L621.9 92.9 L623.0 94.1 L624.0 95.9 L625.0 96.8 L626.0 97.3 L627.0 97.6 L628.0 98.0 L629.0 98.8 L630.0 99.7 L631.0 100.1 L632.0 100.4 L633.0 101.0 L634.0 101.7 L635.0 102.4 L636.1 102.6 L637.1 102.8 L638.2 103.5 L639.2 104.2 L640.3 104.6 L641.4 104.7 L642.4 104.9 L643.5 105.2 L644.5 105.6 L645.6 106.1 L646.6 106.6 L647.6 107.1 L648.7 107.4 L649.7 107.2 L650.7 107.7 L651.8 108.2 L652.8 108.2 L653.8 108.3 L654.9 108.2 L655.9 108.4 L656.9 109.1 L658.0 109.4 L659.0 109.3 L660.0 109.6 L661.1 109.9 L662.1 110.1 L663.1 110.3 L664.2 110.6 L665.2 110.5 L666.2 110.6 L667.3 110.7 L668.3 110.8 L669.3 111.1 L670.3 111.2 L671.4 111.4 L672.4 111.5 L673.4 111.7 L674.5 111.9 L675.5 111.9 L676.5 111.9 L677.6 111.9 L678.6 112.0 L679.6 112.2 L680.7 112.4 L681.7 112.9 L682.8 113.1 L683.8 112.9 L684.8 112.8 L685.9 112.6 L686.9 112.8 L687.9 113.0 L689.0 113.0 L690.0 113.3 L691.0 113.5 L692.1 113.5 L693.1 113.4 L694.2 113.3 L695.2 113.8 L696.2 113.9 L697.3 114.0 L698.3 114.1 L699.4 114.2 L700.4 114.0 L701.4 113.9 L702.5 114.0 L703.5 114.3 L704.5 114.7 L705.6 114.7 L706.6 114.6 L707.6 114.6 L708.7 115.1 L709.7 115.5 L710.8 115.3 L711.8 115.3 L712.8 115.2 L713.9 114.8 L714.9 115.1 L716.0 115.3 L717.0 115.4 L718.0 115.6 L719.1 116.2 L720.1 116.2 L721.1 115.8 L722.2 116.0 L723.2 116.1 L724.2 116.3 L725.3 116.6 L726.3 116.4 L727.4 116.3 L728.4 116.5 L729.4 116.6 L730.4 116.5 L731.5 116.3 L732.5 116.2 L733.5 116.6 L734.5 117.1 L735.6 117.1 L736.6 116.8 L737.6 116.8 L738.6 117.1 L739.7 117.0 L740.7 117.1 L741.7 117.4 L742.8 117.7 L743.8 117.7 L744.8 117.8 L745.8 117.8 L746.9 117.8 L747.9 117.9 L748.9 118.1 L749.9 118.1 L751.0 118.1 L752.0 118.2 L753.0 118.2 L754.0 118.6 L755.0 118.8 L756.1 118.6 L757.1 118.9 L758.1 119.1 L759.1 118.6 L760.1 118.6 L761.1 118.9 L762.2 119.2 L763.2 119.3 L764.2 119.2 L765.2 118.9 L766.2 118.7 L767.3 119.0 L768.3 119.2 L769.3 119.1 L770.3 119.0 L771.3 119.1 L772.4 119.3 L773.4 119.4 L774.4 119.4 L775.4 119.3 L776.4 119.5 L777.5 120.0 L778.5 119.8 L779.5 119.8 L780.5 119.9 L781.5 119.9 L782.5 120.0 L783.6 119.9 L784.6 119.9 L785.6 120.2" fill="none" stroke="#0000ff" stroke-width="2.7" stroke-linejoin="round" shape-rendering="crispEdges" />
</g>
<clipPath id="cb"><rect x="67.0" y="279.0" width="718.5" height="230.0"/></clipPath>
<g clip-path="url(#cb)">
<path d="M67.0 489.0 L276.0 489.0 L277.0 490.0 L334.0 490.3 L335.7 490.2 L337.4 490.2 L339.1 490.0 L340.9 489.5 L342.6 489.2 L344.3 489.1 L345.8 489.2 L347.4 489.3 L349.0 489.4 L350.5 489.0 L352.1 489.3 L353.7 490.1 L355.2 489.6 L356.8 489.2 L358.4 489.3 L359.9 489.2 L361.4 489.1 L362.9 489.0 L364.5 488.8 L366.0 488.8 L367.5 489.0 L369.0 489.0 L370.6 488.8 L372.1 488.7 L373.6 488.9 L375.1 488.9 L376.6 488.7 L378.2 488.6 L379.7 489.0 L381.2 489.0 L382.7 488.7 L384.3 488.5 L385.8 488.5 L387.3 488.7 L388.8 489.0 L390.4 488.8 L391.9 488.4 L393.4 488.5 L395.0 488.6 L396.5 488.3 L398.1 488.1 L399.6 488.3 L401.2 488.5 L402.7 488.3 L404.3 487.9 L405.9 488.2 L407.4 488.2 L409.0 488.1 L410.5 488.4 L412.1 488.3 L413.7 488.0 L415.3 488.0 L417.0 488.1 L418.6 488.2 L420.2 488.0 L421.9 488.2 L423.5 488.0 L425.1 487.7 L426.7 488.0 L428.4 488.2 L430.0 488.1 L431.5 488.0 L433.1 488.0 L434.6 488.0 L436.2 488.4 L437.7 488.2 L439.3 487.9 L440.8 487.8 L442.4 487.9 L443.9 488.3 L445.5 488.1 L447.0 487.6 L448.6 487.7 L450.1 488.1 L451.7 488.2 L453.3 488.1 L454.8 487.5 L456.4 487.2 L458.0 487.9 L459.5 487.7 L461.1 487.7 L462.7 488.3 L464.3 488.2 L465.8 488.0 L467.4 487.8 L469.0 487.3 L470.6 487.3 L472.2 487.5 L473.8 487.5 L475.4 487.7 L477.0 487.7 L478.6 487.5 L480.2 487.6 L481.8 487.6 L483.4 487.9 L485.0 487.9 L486.6 487.6 L488.2 487.4 L489.8 487.3 L491.3 487.6 L492.8 487.7 L494.3 487.2 L495.8 487.1 L497.3 487.2 L498.9 487.2 L500.4 487.5 L501.9 487.3 L503.4 487.2 L504.9 487.4 L506.4 487.1 L508.0 487.1 L509.5 487.3 L511.0 487.3 L512.6 487.3 L514.2 487.2 L515.7 487.0 L517.3 486.7 L518.9 487.1 L520.4 487.5 L522.0 487.4 L523.6 487.0 L525.1 487.2 L526.7 486.9 L528.4 486.5 L530.0 487.1 L531.7 487.3 L533.4 487.0 L535.0 486.5 L536.7 486.9 L538.3 487.3 L540.0 486.9 L541.7 486.8 L543.5 487.2 L545.2 486.6 L546.9 486.6 L548.7 487.3 L550.4 486.7 L552.1 486.7 L553.8 486.7 L556.4 486.8 L557.6 487.2 L558.4 487.3 L560.0 486.8 L562.1 486.2 L563.7 485.9 L565.0 485.5 L566.1 485.0 L567.0 484.2 L568.0 483.0 L568.9 481.4 L569.7 479.6 L570.3 477.4 L570.9 475.1 L571.4 472.6 L572.0 470.0 L572.6 467.1 L573.2 463.7 L573.8 460.2 L574.3 456.9 L574.7 454.0 L575.0 452.0 L578.0 420.0 L580.0 300.0 L581.0 295.5 L586.3 296.0 L588.9 303.8 L589.5 325.4 L591.4 327.9 L593.3 331.7 L594.6 342.0 L596.5 367.4 L597.8 403.0 L599.7 431.0 L600.3 489.6 L604.1 489.6 L605.0 470.0 L606.7 415.8 L612.4 415.8 L612.6 390.3 L615.5 389.0 L616.8 367.4 L619.0 340.0 L623.0 318.0 L627.0 308.8 L628.3 357.2 L631.5 357.2 L632.0 382.7 L635.3 384.0 L635.5 412.0 L635.7 414.1 L635.9 416.9 L636.2 420.3 L636.6 424.0 L636.9 427.6 L637.2 431.0 L637.5 434.2 L637.8 437.5 L638.0 440.7 L638.3 443.9 L638.7 447.0 L639.0 450.0 L639.4 452.8 L639.8 455.5 L640.3 458.2 L640.7 460.7 L641.2 463.1 L641.6 465.4 L642.0 467.6 L642.3 469.6 L642.6 471.6 L643.0 473.4 L643.5 475.2 L644.1 476.8 L644.9 478.4 L645.8 479.9 L646.8 481.3 L647.9 482.6 L648.9 483.6 L649.9 484.5 L650.7 485.1 L651.4 485.4 L652.1 485.5 L652.9 485.5 L653.8 485.5 L655.0 485.7 L656.2 486.0 L657.4 486.3 L658.7 486.6 L660.4 487.0 L662.8 487.3 L666.0 487.6 L669.7 487.8 L673.7 488.1 L678.3 488.3 L684.0 488.5 L691.1 488.6 L700.0 488.8 L712.3 488.9 L727.9 489.0 L744.9 489.1 L761.5 489.2 L775.7 489.3 L785.6 489.3" fill="none" stroke="#0000ff" stroke-width="2.7" stroke-linejoin="round" shape-rendering="crispEdges" />
<path d="M67.0 488.6 L276.0 488.6 L277.0 490.0 L334.0 489.4 L335.7 489.0 L337.4 489.0 L339.1 489.1 L340.9 488.9 L342.6 489.0 L344.3 489.3 L345.8 489.2 L347.4 489.4 L349.0 489.2 L350.5 489.1 L352.1 489.1 L353.7 488.9 L355.2 488.6 L356.8 488.5 L358.4 488.8 L359.9 488.6 L361.4 488.5 L362.9 488.5 L364.5 488.4 L366.0 488.0 L367.5 488.0 L369.0 488.3 L370.6 488.3 L372.1 488.2 L373.6 488.2 L375.1 488.5 L376.6 488.5 L378.2 488.2 L379.7 488.5 L381.2 488.7 L382.7 488.6 L384.3 488.6 L385.8 488.3 L387.3 488.1 L388.8 488.3 L390.4 488.2 L391.9 487.9 L393.4 488.1 L395.0 488.1 L396.5 488.0 L398.1 488.1 L399.6 488.1 L401.2 488.0 L402.7 488.2 L404.3 488.2 L405.9 488.1 L407.4 487.7 L409.0 487.2 L410.5 487.3 L412.1 487.6 L413.7 488.0 L415.3 487.7 L417.0 487.4 L418.6 487.5 L420.2 487.2 L421.9 487.3 L423.5 487.6 L425.1 487.7 L426.7 487.7 L428.4 487.5 L430.0 487.4 L431.5 487.7 L433.1 487.6 L434.6 487.5 L436.2 487.3 L437.7 487.0 L439.3 487.0 L440.8 487.1 L442.4 487.7 L443.9 487.7 L445.5 487.5 L447.0 487.6 L448.6 487.3 L450.1 487.4 L451.7 487.2 L453.3 487.2 L454.8 487.4 L456.4 486.9 L458.0 487.0 L459.5 487.4 L461.1 487.3 L462.7 487.5 L464.3 487.3 L465.8 487.1 L467.4 487.3 L469.0 487.0 L470.6 487.1 L472.2 487.0 L473.8 486.5 L475.4 486.9 L477.0 486.9 L478.6 486.8 L480.2 486.7 L481.8 486.7 L483.4 486.8 L485.0 486.8 L486.6 486.7 L488.2 486.7 L489.8 487.0 L491.3 486.9 L492.8 486.9 L494.3 486.9 L495.8 486.7 L497.3 486.1 L498.9 486.4 L500.4 486.7 L501.9 486.6 L503.4 486.9 L504.9 486.6 L506.4 486.3 L508.0 486.6 L509.5 486.5 L511.0 486.7 L512.6 486.9 L514.2 486.6 L515.7 486.5 L517.3 486.8 L518.9 486.8 L520.4 486.8 L522.0 487.0 L523.6 486.5 L525.1 486.2 L526.7 486.5 L528.4 486.8 L530.0 486.9 L531.7 487.0 L533.4 487.0 L535.0 486.8 L536.7 486.5 L538.3 486.7 L540.0 486.7 L541.7 486.7 L543.5 486.4 L545.2 486.3 L546.9 486.6 L548.7 486.0 L550.4 486.2 L552.1 486.7 L553.8 486.4 L556.4 486.1 L557.6 485.8 L558.4 486.1 L560.0 485.6 L562.1 485.0 L563.7 484.6 L565.0 484.0 L566.1 483.3 L567.0 482.3 L568.0 481.0 L568.9 479.4 L569.7 477.5 L570.3 475.3 L570.9 473.0 L571.4 470.6 L572.0 468.0 L572.6 465.1 L573.2 461.7 L573.8 458.2 L574.3 454.9 L574.7 452.0 L575.0 450.0 L578.0 418.0 L580.0 290.0 L581.0 287.9 L591.4 289.8 L599.0 293.6 L604.0 295.5 L608.0 299.3 L609.8 312.7 L611.0 326.6 L614.3 330.5 L616.2 342.0 L617.0 371.0 L618.2 342.0 L620.6 316.5 L623.2 303.8 L627.0 294.9 L632.0 289.8 L640.0 287.5 L646.0 287.0 L646.7 342.0 L647.2 351.0 L651.0 351.0 L653.7 378.8 L656.2 379.5 L657.5 412.0 L657.7 414.1 L658.0 416.9 L658.3 420.3 L658.7 424.0 L659.1 427.6 L659.4 431.0 L659.7 434.2 L660.0 437.5 L660.3 440.7 L660.6 443.9 L660.9 447.0 L661.3 450.0 L661.7 452.8 L662.1 455.6 L662.5 458.2 L662.9 460.7 L663.4 463.1 L663.8 465.4 L664.2 467.6 L664.5 469.6 L664.7 471.6 L665.1 473.4 L665.7 475.1 L666.5 476.6 L667.6 478.0 L668.9 479.2 L670.3 480.3 L671.9 481.3 L673.6 482.2 L675.4 483.0 L677.1 483.6 L678.6 484.1 L680.3 484.5 L682.2 484.8 L684.7 485.1 L688.0 485.5 L691.8 485.9 L696.0 486.3 L700.7 486.7 L706.1 487.1 L712.5 487.5 L720.0 487.8 L729.7 488.1 L741.8 488.3 L754.8 488.4 L767.3 488.6 L778.1 488.7 L785.6 488.8" fill="none" stroke="#0080ff" stroke-width="2.7" stroke-linejoin="round" shape-rendering="crispEdges" />
<path d="M67.0 487.1 L276.0 487.1 L277.0 489.5 L305.0 487.5 L308.0 487.7 L309.9 487.9 L311.9 487.8 L313.5 487.7 L315.0 488.1 L316.6 488.0 L318.4 488.2 L320.2 488.4 L322.0 487.8 L323.9 488.1 L325.9 488.4 L327.8 488.0 L329.4 487.9 L330.9 487.7 L332.5 487.3 L334.0 487.8 L335.7 487.8 L337.4 487.2 L339.1 487.3 L340.8 487.6 L342.3 487.4 L343.8 486.7 L345.3 486.5 L346.8 486.8 L348.3 486.9 L349.9 487.0 L351.5 486.6 L353.1 486.0 L354.7 485.9 L356.3 486.1 L357.9 485.7 L359.6 485.6 L361.2 485.0 L362.8 484.8 L364.5 485.0 L366.1 484.8 L367.7 484.9 L369.3 484.4 L370.9 484.1 L372.5 484.2 L374.0 484.2 L375.5 483.8 L377.0 483.3 L378.5 483.0 L380.0 483.5 L381.8 483.7 L383.5 483.0 L385.3 482.5 L387.0 482.6 L388.7 482.6 L390.4 482.6 L392.1 482.7 L393.8 482.2 L395.4 482.0 L397.1 481.6 L398.7 481.3 L400.4 481.2 L402.0 480.9 L403.6 480.8 L405.3 480.9 L406.9 481.0 L408.5 480.2 L410.1 479.6 L411.8 480.0 L413.4 479.8 L415.1 479.9 L416.7 480.0 L418.4 479.7 L420.0 479.4 L421.7 479.3 L423.3 479.3 L425.0 478.7 L426.7 478.4 L428.3 478.3 L430.0 478.0 L431.7 478.1 L433.3 478.2 L435.0 478.0 L436.7 477.6 L438.3 477.4 L440.0 477.2 L441.7 477.2 L443.3 477.3 L445.0 477.5 L446.7 477.4 L448.3 476.8 L450.0 476.4 L451.7 476.2 L453.3 476.3 L455.0 476.8 L456.7 476.8 L458.3 476.0 L460.0 475.5 L461.7 475.7 L463.3 476.1 L465.0 476.4 L466.7 476.4 L468.3 476.9 L470.0 476.7 L471.7 476.3 L473.3 477.0 L475.0 477.3 L476.7 476.9 L478.3 476.6 L480.0 476.6 L481.7 476.7 L483.3 477.2 L485.0 477.8 L486.7 478.2 L488.3 478.3 L490.0 478.1 L491.7 478.2 L493.3 478.8 L495.0 478.8 L496.7 478.5 L498.3 479.0 L500.0 479.2 L501.7 479.2 L503.5 479.3 L505.2 479.7 L506.9 479.6 L508.7 479.5 L510.6 479.6 L512.4 479.6 L514.2 479.7 L516.0 479.9 L517.8 480.1 L519.6 480.5 L521.4 480.8 L523.2 480.6 L524.9 480.5 L526.6 480.7 L528.4 480.9 L529.9 480.9 L531.5 480.8 L533.1 480.8 L534.7 480.6 L536.4 480.9 L538.2 481.4 L540.0 481.4 L542.1 481.2 L544.3 481.1 L546.0 480.9 L547.8 480.4 L550.6 480.4 L553.0 480.5 L555.1 479.9 L557.0 479.3 L558.7 479.2 L559.9 478.5 L560.8 478.1 L561.6 477.9 L562.2 476.8 L563.0 476.0 L563.8 475.3 L564.5 474.7 L565.2 474.0 L565.8 473.1 L566.4 471.8 L567.0 470.0 L567.5 467.5 L568.0 464.3 L568.5 460.8 L568.9 457.1 L569.3 453.4 L569.8 450.0 L570.3 446.8 L570.8 443.6 L571.4 440.4 L571.9 437.3 L572.5 434.2 L573.0 431.0 L573.5 427.6 L574.1 424.0 L574.7 420.3 L575.2 416.9 L575.7 414.1 L576.0 412.0 L577.4 400.0 L579.7 300.0 L580.0 284.3 L616.8 287.5 L632.0 289.8 L655.0 285.3 L666.0 282.2 L675.4 282.2 L686.2 281.5 L687.0 290.0 L688.8 342.0 L692.6 345.8 L695.0 375.0 L698.3 375.7 L699.0 395.4 L700.2 412.0 L700.3 412.9 L700.3 414.0 L700.4 415.4 L700.5 417.2 L700.7 419.3 L700.8 422.0 L700.9 425.4 L701.1 429.6 L701.2 434.1 L701.4 438.8 L701.6 443.4 L702.0 447.4 L702.5 451.1 L703.1 454.6 L703.8 458.0 L704.5 461.1 L705.2 464.0 L706.0 466.5 L706.8 468.6 L707.5 470.4 L708.4 471.9 L709.2 473.1 L710.1 474.3 L711.0 475.4 L711.9 476.4 L712.9 477.3 L713.9 478.0 L715.0 478.7 L716.1 479.3 L717.3 479.8 L718.6 480.3 L719.9 480.6 L721.3 480.9 L722.8 481.1 L724.5 481.4 L726.2 481.7 L728.1 482.1 L730.2 482.6 L732.5 483.0 L734.7 483.5 L736.9 483.9 L739.0 484.3 L740.9 484.6 L742.7 484.8 L744.4 485.0 L746.1 485.1 L748.0 485.3 L750.0 485.5 L752.2 485.7 L754.5 486.0 L756.9 486.3 L759.4 486.5 L762.1 486.8 L765.0 487.0 L768.3 487.2 L772.2 487.3 L776.2 487.5 L780.1 487.6 L783.3 487.7 L785.6 487.8" fill="none" stroke="#00bfff" stroke-width="2.7" stroke-linejoin="round" shape-rendering="crispEdges" />
<path d="M67.0 489.8 L276.0 489.8 L277.0 490.3 L334.0 489.7 L335.5 489.6 L337.1 489.6 L338.6 489.6 L340.1 489.4 L341.7 489.6 L343.2 489.6 L344.7 489.2 L346.3 489.4 L347.8 489.4 L349.3 489.1 L350.8 489.2 L352.3 489.2 L353.8 488.8 L355.3 488.8 L356.8 489.0 L358.3 489.3 L359.9 489.1 L361.5 488.9 L363.1 488.9 L364.7 488.6 L366.3 488.6 L367.9 488.7 L369.5 488.8 L371.2 489.1 L372.8 488.7 L374.4 488.6 L376.0 488.9 L377.6 488.7 L379.2 488.3 L380.7 488.3 L382.3 488.4 L383.9 488.2 L385.4 488.1 L387.0 488.1 L388.6 488.4 L390.1 488.4 L391.7 488.1 L393.2 488.0 L394.8 488.3 L396.4 487.9 L397.9 487.8 L399.4 487.7 L400.9 487.5 L402.4 487.8 L403.9 488.0 L405.4 487.9 L406.9 487.5 L408.4 487.2 L409.9 487.0 L411.4 487.3 L412.9 487.4 L414.4 487.1 L416.0 487.2 L417.5 487.2 L419.1 487.0 L420.6 487.0 L422.2 487.4 L423.8 487.7 L425.3 487.3 L426.9 486.7 L428.4 486.8 L430.0 487.1 L431.5 487.1 L433.0 487.2 L434.5 487.0 L436.0 487.1 L437.5 487.3 L439.0 487.2 L440.5 486.9 L442.0 486.8 L443.5 487.0 L445.1 486.9 L446.7 486.7 L448.3 486.8 L449.9 486.6 L451.6 486.8 L453.2 487.1 L454.8 487.0 L456.4 487.2 L457.9 486.9 L459.4 486.8 L460.9 487.1 L462.4 487.3 L464.0 487.1 L465.5 487.1 L467.0 487.4 L468.5 487.5 L470.1 487.8 L471.7 487.6 L473.4 487.9 L475.0 487.8 L476.6 487.3 L478.2 487.3 L479.9 487.2 L481.4 487.3 L482.9 487.1 L484.4 487.2 L485.9 487.6 L487.4 487.9 L488.9 487.8 L490.4 487.9 L492.0 487.8 L493.6 487.6 L495.2 487.3 L496.8 487.2 L498.4 487.5 L500.0 487.9 L501.7 488.2 L503.5 487.7 L505.2 487.7 L506.9 488.1 L508.6 487.9 L510.2 487.8 L511.7 487.8 L513.3 487.7 L514.8 487.5 L516.3 487.6 L518.0 488.2 L519.8 488.5 L521.5 488.2 L523.2 487.8 L524.7 487.8 L526.3 488.1 L527.8 488.2 L529.3 487.9 L531.2 487.9 L533.0 488.0 L534.9 488.0 L536.6 487.9 L538.3 487.5 L540.0 487.5 L541.5 487.9 L543.0 487.6 L544.5 487.4 L546.4 487.6 L548.3 487.4 L549.9 487.0 L551.5 487.3 L554.3 487.2 L556.7 486.6 L559.0 485.8 L561.0 485.5 L562.6 484.9 L563.9 484.3 L565.0 483.7 L566.0 483.0 L567.0 482.0 L567.9 481.0 L568.6 479.9 L569.2 478.7 L569.8 477.2 L570.4 475.4 L571.0 473.0 L571.8 469.7 L572.6 465.5 L573.5 460.9 L574.3 456.5 L575.0 452.7 L575.5 450.0 L578.7 422.0 L580.5 400.0 L584.0 300.0 L587.0 294.2 L589.5 299.3 L590.8 311.4 L593.3 313.9 L594.6 320.3 L595.9 327.9 L597.8 342.0 L599.0 357.0 L600.3 380.0 L602.2 398.0 L604.0 443.8 L604.9 481.0 L606.0 481.0 L607.3 431.0 L609.2 386.5 L611.0 367.4 L612.4 354.7 L615.0 345.8 L619.4 322.8 L623.2 310.0 L626.4 305.5 L627.6 342.0 L628.3 380.0 L630.8 412.0 L630.9 413.4 L631.1 415.3 L631.3 417.6 L631.5 420.0 L631.7 422.4 L632.0 424.7 L632.3 426.8 L632.6 428.9 L632.9 431.1 L633.2 433.2 L633.6 435.3 L634.0 437.4 L634.5 439.5 L635.0 441.6 L635.5 443.7 L636.0 445.8 L636.6 447.9 L637.2 450.0 L637.8 452.2 L638.4 454.3 L639.0 456.6 L639.6 458.7 L640.3 460.8 L641.0 462.8 L641.7 464.7 L642.4 466.5 L643.2 468.2 L644.0 469.9 L644.9 471.5 L646.0 473.0 L647.3 474.5 L648.8 475.8 L650.3 477.2 L651.9 478.4 L653.5 479.6 L655.0 480.6 L656.3 481.5 L657.5 482.4 L658.6 483.1 L659.8 483.8 L661.2 484.4 L662.7 484.9 L664.3 485.4 L666.0 485.7 L667.8 486.0 L669.8 486.3 L672.2 486.6 L675.0 486.8 L677.7 487.0 L680.1 487.2 L682.9 487.4 L686.7 487.6 L692.2 487.8 L700.0 488.0 L711.8 488.3 L727.2 488.7 L744.4 489.0 L761.2 489.4 L775.6 489.7 L785.6 489.9" fill="none" stroke="#b400be" stroke-width="2.7" stroke-linejoin="round" shape-rendering="crispEdges" />
<path d="M67.0 488.8 L276.0 488.8 L277.0 490.0 L334.0 489.0 L335.7 489.3 L337.4 488.9 L339.1 488.4 L340.8 488.5 L342.6 488.1 L344.4 488.1 L346.1 488.4 L347.8 488.1 L349.5 488.0 L351.2 488.1 L352.8 488.0 L354.5 487.8 L356.3 487.9 L358.1 487.6 L359.8 487.3 L361.6 487.1 L363.4 487.2 L365.2 487.1 L366.9 486.9 L368.7 486.9 L370.4 486.7 L372.1 486.9 L373.7 486.7 L375.3 486.6 L376.9 486.6 L378.4 486.5 L380.0 486.2 L381.8 486.0 L383.5 486.1 L385.3 485.7 L387.0 485.5 L388.7 485.4 L390.4 485.3 L392.1 485.4 L393.8 485.2 L395.4 484.5 L397.1 484.2 L398.7 484.3 L400.4 484.4 L402.0 484.3 L403.6 484.5 L405.3 484.7 L406.9 484.5 L408.5 484.2 L410.1 483.9 L411.8 483.8 L413.4 484.1 L415.1 484.2 L416.7 483.5 L418.4 483.3 L420.0 483.9 L421.7 483.8 L423.3 483.1 L425.0 482.8 L426.7 483.2 L428.3 483.2 L430.0 482.9 L431.7 482.6 L433.3 482.9 L435.0 482.7 L436.7 482.8 L438.3 483.0 L440.0 482.7 L441.7 482.4 L443.3 482.2 L445.0 482.5 L446.7 482.3 L448.3 482.6 L450.0 482.6 L451.7 481.9 L453.3 482.2 L455.0 482.5 L456.7 482.6 L458.3 482.5 L460.0 482.3 L461.7 482.4 L463.3 482.3 L465.0 481.9 L466.7 482.2 L468.3 482.8 L470.0 482.8 L471.7 482.7 L473.3 482.7 L475.0 482.9 L476.7 483.0 L478.3 483.3 L480.0 483.0 L481.7 483.0 L483.3 483.2 L485.0 483.2 L486.7 483.8 L488.3 483.7 L490.0 483.5 L491.7 483.7 L493.3 484.0 L495.0 484.0 L496.7 483.5 L498.3 483.9 L500.0 484.2 L501.7 484.1 L503.5 484.5 L505.2 484.4 L506.9 484.2 L508.7 484.5 L510.5 484.7 L512.3 484.7 L514.1 484.9 L515.9 485.5 L517.7 485.3 L519.5 485.3 L521.3 485.0 L523.0 485.0 L524.8 485.4 L526.5 485.2 L528.2 485.3 L529.8 485.1 L531.4 485.0 L533.0 485.1 L534.5 485.6 L536.4 485.9 L538.2 485.6 L540.0 485.2 L541.5 485.1 L543.0 484.9 L544.5 485.3 L546.4 485.5 L548.3 485.0 L549.9 484.5 L551.5 484.1 L554.3 483.9 L556.7 483.7 L559.0 482.8 L561.0 482.5 L562.6 482.2 L563.9 482.0 L565.0 481.6 L566.0 480.9 L567.0 479.8 L567.9 478.1 L568.7 476.0 L569.3 473.7 L569.9 471.1 L570.4 468.5 L571.0 465.9 L571.6 463.2 L572.2 460.2 L572.8 457.1 L573.3 454.2 L573.7 451.8 L574.0 450.0 L578.0 420.0 L581.0 380.0 L585.0 286.0 L586.5 285.3 L595.2 287.2 L602.8 291.0 L608.0 293.6 L610.5 299.3 L612.4 311.4 L615.0 320.3 L616.8 326.6 L617.0 338.0 L619.4 322.8 L623.2 310.0 L627.0 301.2 L632.0 293.6 L637.0 289.2 L644.8 286.6 L646.0 287.0 L648.0 342.0 L649.9 367.4 L652.4 412.0 L652.7 413.6 L653.0 415.8 L653.5 418.4 L653.9 421.3 L654.5 424.2 L655.0 427.0 L655.6 429.7 L656.2 432.6 L656.8 435.5 L657.5 438.3 L658.2 441.1 L658.8 443.8 L659.4 446.3 L660.1 448.8 L660.7 451.2 L661.3 453.5 L662.0 455.6 L662.6 457.7 L663.2 459.6 L663.7 461.3 L664.2 462.9 L664.8 464.5 L665.6 466.1 L666.5 467.7 L667.7 469.4 L669.0 471.3 L670.4 473.1 L672.0 474.9 L673.6 476.5 L675.4 477.9 L677.3 479.1 L679.3 480.1 L681.5 480.9 L683.6 481.7 L685.8 482.4 L688.0 483.0 L690.0 483.6 L691.8 484.0 L693.6 484.4 L695.6 484.8 L697.9 485.1 L700.8 485.5 L703.9 485.9 L707.0 486.2 L710.5 486.6 L714.6 486.9 L719.7 487.2 L726.0 487.4 L734.6 487.6 L745.5 487.8 L757.4 487.9 L768.9 488.0 L778.7 488.1 L785.6 488.2" fill="none" stroke="#bb66bb" stroke-width="2.7" stroke-linejoin="round" shape-rendering="crispEdges" />
<path d="M67.0 488.3 L276.0 488.3 L277.0 489.8 L300.0 489.2 L301.8 488.9 L303.6 489.1 L305.2 489.2 L306.8 489.3 L308.4 488.9 L310.3 489.0 L312.2 489.3 L314.1 488.9 L315.7 488.6 L317.3 488.4 L318.9 488.2 L320.5 488.0 L322.2 487.9 L323.9 488.1 L325.6 488.3 L327.2 488.3 L328.9 488.0 L330.6 487.7 L332.3 487.3 L334.0 487.2 L335.8 487.1 L337.5 486.6 L339.3 486.5 L341.0 486.4 L342.6 486.0 L344.1 486.2 L345.6 486.0 L347.1 486.1 L348.7 486.0 L350.3 485.8 L351.9 485.9 L353.4 485.3 L355.0 484.9 L356.6 485.1 L358.2 484.8 L359.8 484.3 L361.4 484.1 L363.1 483.9 L364.7 483.7 L366.2 483.6 L367.8 483.6 L369.4 483.7 L371.0 483.3 L372.5 482.9 L374.4 482.8 L376.3 482.5 L378.1 482.0 L380.0 482.0 L381.8 481.8 L383.6 481.6 L385.4 481.4 L387.2 481.4 L389.1 481.2 L390.9 480.8 L392.7 481.1 L394.5 480.6 L396.3 480.4 L398.1 480.3 L399.8 479.5 L401.6 479.6 L403.3 479.9 L405.0 479.6 L406.7 478.8 L408.4 478.7 L409.9 479.0 L411.5 478.7 L413.0 478.6 L414.6 478.2 L416.4 477.9 L418.2 478.4 L420.0 478.6 L422.2 478.0 L424.5 477.3 L426.3 477.1 L428.1 477.2 L429.7 477.1 L431.2 476.4 L434.1 475.9 L436.9 475.8 L438.4 475.9 L440.0 475.9 L441.7 475.6 L443.3 475.5 L445.0 475.2 L446.7 475.2 L448.3 475.1 L450.0 474.8 L451.7 475.1 L453.3 474.8 L455.0 474.5 L456.7 474.3 L458.3 474.5 L460.0 474.8 L461.7 474.8 L463.3 474.9 L465.0 474.7 L466.7 474.7 L468.3 475.2 L470.0 475.3 L471.7 475.6 L473.3 476.1 L475.0 476.0 L476.7 475.7 L478.3 475.8 L480.0 476.1 L481.7 476.5 L483.3 476.4 L485.0 476.6 L486.7 476.7 L488.3 476.8 L490.0 477.2 L491.7 477.3 L493.3 477.8 L495.0 477.8 L496.7 477.4 L498.3 477.7 L500.0 478.1 L501.7 477.8 L503.3 477.9 L505.0 478.1 L506.7 478.3 L508.3 478.9 L510.0 478.9 L511.7 478.8 L513.3 478.9 L515.0 478.5 L516.7 478.8 L518.3 479.5 L520.0 479.5 L521.7 479.5 L523.4 479.4 L525.1 479.6 L526.9 480.0 L528.6 480.1 L530.3 480.3 L532.0 479.9 L533.7 479.6 L535.3 480.2 L537.0 480.4 L538.5 480.0 L540.0 480.0 L542.9 480.5 L545.7 480.4 L548.4 479.9 L550.9 479.8 L553.1 479.7 L555.0 479.8 L556.5 479.7 L557.7 478.7 L558.6 478.4 L559.3 478.1 L560.1 477.2 L561.0 477.0 L562.0 476.2 L563.1 475.7 L564.2 475.2 L565.3 474.5 L566.2 473.8 L567.0 472.8 L567.6 471.7 L567.9 470.4 L568.2 469.0 L568.4 467.4 L568.7 465.7 L569.0 463.9 L569.4 461.9 L569.9 459.6 L570.4 457.2 L571.0 454.7 L571.5 452.3 L572.0 450.0 L572.5 447.7 L573.1 445.2 L573.7 442.8 L574.2 440.6 L574.7 438.8 L575.0 437.4 L578.7 412.0 L582.5 342.0 L585.0 282.0 L586.0 281.9 L636.5 288.5 L650.0 284.6 L662.7 281.8 L675.4 281.0 L687.3 280.6 L689.4 342.0 L692.0 367.4 L693.8 392.8 L695.7 412.0 L696.0 413.0 L696.4 414.4 L696.8 416.0 L697.3 417.8 L697.8 419.8 L698.3 422.0 L698.7 424.4 L699.1 427.1 L699.5 429.9 L699.9 432.8 L700.3 435.7 L700.8 438.5 L701.3 441.1 L701.9 443.8 L702.5 446.4 L703.2 448.9 L703.9 451.4 L704.6 453.8 L705.3 456.1 L706.1 458.4 L706.9 460.6 L707.8 462.6 L708.7 464.6 L709.7 466.5 L710.8 468.3 L712.0 469.9 L713.3 471.5 L714.6 473.0 L715.9 474.3 L717.3 475.4 L718.7 476.3 L720.0 477.1 L721.4 477.7 L722.9 478.2 L724.5 478.7 L726.2 479.2 L728.1 479.8 L730.2 480.4 L732.5 481.0 L734.7 481.5 L736.9 482.0 L739.0 482.4 L740.9 482.7 L742.7 483.0 L744.5 483.1 L746.2 483.3 L748.0 483.4 L750.0 483.6 L752.0 483.8 L754.0 483.9 L756.1 484.1 L758.3 484.2 L760.8 484.4 L763.6 484.6 L767.0 484.8 L771.1 485.1 L775.5 485.4 L779.6 485.6 L783.1 485.8 L785.6 486.0" fill="none" stroke="#bba0bb" stroke-width="2.7" stroke-linejoin="round" shape-rendering="crispEdges" />
</g>
<rect x="67" y="55.5" width="37.3" height="14" fill="#fff" fill-opacity="0.6"/>
<rect x="67" y="388.6" width="32.8" height="14" fill="#fff" fill-opacity="0.6"/>
<text x="70.50" y="69.00" font-size="10.1" fill="#000" stroke="#000" stroke-width="0.2" text-anchor="start" textLength="30.0" lengthAdjust="spacingAndGlyphs" >Y1=200</text>
<text x="70.50" y="396.00" font-size="10.1" fill="#000" stroke="#000" stroke-width="0.2" text-anchor="start" textLength="25.5" lengthAdjust="spacingAndGlyphs" >Y1=50</text>
<rect x="276.05" y="226.5" width="58" height="21.5" fill="#fff" fill-opacity="0.8"/>
<text x="280.00" y="241.00" font-size="10.1" fill="#000" stroke="#000" stroke-width="0.2" text-anchor="start" textLength="50.0" lengthAdjust="spacingAndGlyphs" >T1=-12m,10s</text>
<rect x="539.4" y="226.5" width="36.6" height="21.5" fill="#fff" fill-opacity="0.8"/>
<text x="541.80" y="241.00" font-size="10.1" fill="#000" stroke="#000" stroke-width="0.2" text-anchor="start" textLength="29.4" lengthAdjust="spacingAndGlyphs" >T2=-5m</text>
<rect x="276.05" y="486.3" width="58" height="22.69999999999999" fill="#fff" fill-opacity="0.8"/>
<text x="280.00" y="500.00" font-size="10.1" fill="#000" stroke="#000" stroke-width="0.2" text-anchor="start" textLength="50.0" lengthAdjust="spacingAndGlyphs" >T1=-12m,10s</text>
<rect x="539.4" y="486.3" width="36.6" height="22.69999999999999" fill="#fff" fill-opacity="0.8"/>
<text x="541.80" y="500.00" font-size="10.1" fill="#000" stroke="#000" stroke-width="0.2" text-anchor="start" textLength="29.4" lengthAdjust="spacingAndGlyphs" >T2=-5m</text>
<text x="387.90" y="40.70" font-size="10.1" fill="#000" stroke="#000" stroke-width="0.2" text-anchor="start" textLength="13.4" lengthAdjust="spacingAndGlyphs" >ΔT=</text>
<text x="404.30" y="33.70" font-size="10.1" fill="#000" stroke="#000" stroke-width="0.2" text-anchor="start" textLength="27.2" lengthAdjust="spacingAndGlyphs" >7m,10s</text>
<text x="404.30" y="47.50" font-size="10.1" fill="#000" stroke="#000" stroke-width="0.2" text-anchor="start" textLength="58.5" lengthAdjust="spacingAndGlyphs" >0.00232558 Hz</text>
<text x="387.90" y="301.70" font-size="10.1" fill="#000" stroke="#000" stroke-width="0.2" text-anchor="start" textLength="13.4" lengthAdjust="spacingAndGlyphs" >ΔT=</text>
<text x="404.30" y="294.70" font-size="10.1" fill="#000" stroke="#000" stroke-width="0.2" text-anchor="start" textLength="27.2" lengthAdjust="spacingAndGlyphs" >7m,10s</text>
<text x="404.30" y="308.50" font-size="10.1" fill="#000" stroke="#000" stroke-width="0.2" text-anchor="start" textLength="58.5" lengthAdjust="spacingAndGlyphs" >0.00232558 Hz</text>
<rect x="85.5" y="37.4" width="13" height="13" rx="1.2" fill="#ffa500"/>
<text y="48.00" font-size="10.1" fill="#0a0a0a" stroke="#0a0a0a" stroke-width="0.2"><tspan x="105.10" textLength="12.9" lengthAdjust="spacingAndGlyphs">H0:</tspan><tspan x="118.00" textLength="17.3" lengthAdjust="spacingAndGlyphs">VAC-</tspan><tspan x="135.30" textLength="13.4" lengthAdjust="spacingAndGlyphs">LY_</tspan><tspan x="148.70" textLength="19.4" lengthAdjust="spacingAndGlyphs">CP1_</tspan><tspan x="168.10" textLength="30.7" lengthAdjust="spacingAndGlyphs">LIC100_</tspan><tspan x="198.80" textLength="21.7" lengthAdjust="spacingAndGlyphs">LLCV_</tspan><tspan x="220.50" textLength="18.7" lengthAdjust="spacingAndGlyphs">POS_</tspan><tspan x="239.20" textLength="21.9" lengthAdjust="spacingAndGlyphs">CTRL_</tspan><tspan x="261.10" textLength="15.3" lengthAdjust="spacingAndGlyphs">PCT</tspan><tspan> </tspan><tspan x="277.80" textLength="32.8" lengthAdjust="spacingAndGlyphs">[s-trend]</tspan></text>
<rect x="85.5" y="56.4" width="13" height="13" rx="1.2" fill="#ff69b4"/>
<text y="67.00" font-size="10.1" fill="#0a0a0a" stroke="#0a0a0a" stroke-width="0.2"><tspan x="105.10" textLength="12.9" lengthAdjust="spacingAndGlyphs">H0:</tspan><tspan x="118.00" textLength="17.3" lengthAdjust="spacingAndGlyphs">VAC-</tspan><tspan x="135.30" textLength="13.4" lengthAdjust="spacingAndGlyphs">LY_</tspan><tspan x="148.70" textLength="19.4" lengthAdjust="spacingAndGlyphs">CP1_</tspan><tspan x="168.10" textLength="28.3" lengthAdjust="spacingAndGlyphs">PT101_</tspan><tspan x="196.40" textLength="48.0" lengthAdjust="spacingAndGlyphs">DISCHARGE_</tspan><tspan x="244.40" textLength="25.3" lengthAdjust="spacingAndGlyphs">PRESS_</tspan><tspan x="269.70" textLength="41.2" lengthAdjust="spacingAndGlyphs">PSIG*1000</tspan><tspan> </tspan><tspan x="313.60" textLength="33.2" lengthAdjust="spacingAndGlyphs">[s-trend]</tspan></text>
<rect x="85.5" y="75.5" width="13" height="13" rx="1.2" fill="#0000ff"/>
<text y="86.00" font-size="10.1" fill="#0a0a0a" stroke="#0a0a0a" stroke-width="0.2"><tspan x="105.10" textLength="12.9" lengthAdjust="spacingAndGlyphs">H0:</tspan><tspan x="118.00" textLength="17.3" lengthAdjust="spacingAndGlyphs">VAC-</tspan><tspan x="135.30" textLength="13.4" lengthAdjust="spacingAndGlyphs">LY_</tspan><tspan x="148.70" textLength="19.6" lengthAdjust="spacingAndGlyphs">CP1_</tspan><tspan x="168.30" textLength="32.1" lengthAdjust="spacingAndGlyphs">TE102A_</tspan><tspan x="200.40" textLength="47.4" lengthAdjust="spacingAndGlyphs">DISCHARGE_</tspan><tspan x="247.80" textLength="23.8" lengthAdjust="spacingAndGlyphs">TEMP_</tspan><tspan x="271.60" textLength="32.5" lengthAdjust="spacingAndGlyphs">DEGC*-1</tspan><tspan> </tspan><tspan x="306.90" textLength="33.4" lengthAdjust="spacingAndGlyphs">[s-trend]</tspan></text>
<rect x="85.5" y="94.5" width="13" height="13" rx="1.2" fill="#0000ff"/>
<text y="105.00" font-size="10.1" fill="#0a0a0a" stroke="#0a0a0a" stroke-width="0.2"><tspan x="105.10" textLength="12.9" lengthAdjust="spacingAndGlyphs">H0:</tspan><tspan x="118.00" textLength="17.3" lengthAdjust="spacingAndGlyphs">VAC-</tspan><tspan x="135.30" textLength="13.4" lengthAdjust="spacingAndGlyphs">LY_</tspan><tspan x="148.70" textLength="19.6" lengthAdjust="spacingAndGlyphs">CP1_</tspan><tspan x="168.30" textLength="32.1" lengthAdjust="spacingAndGlyphs">TE102B_</tspan><tspan x="200.40" textLength="47.4" lengthAdjust="spacingAndGlyphs">DISCHARGE_</tspan><tspan x="247.80" textLength="23.8" lengthAdjust="spacingAndGlyphs">TEMP_</tspan><tspan x="271.60" textLength="32.5" lengthAdjust="spacingAndGlyphs">DEGC*-1</tspan><tspan> </tspan><tspan x="306.90" textLength="33.4" lengthAdjust="spacingAndGlyphs">[s-trend]</tspan></text>
<rect x="85.5" y="298.0" width="13" height="13" rx="1.2" fill="#0000ff"/>
<text y="308.00" font-size="10.1" fill="#0a0a0a" stroke="#0a0a0a" stroke-width="0.2"><tspan x="105.10" textLength="12.9" lengthAdjust="spacingAndGlyphs">H1:</tspan><tspan x="118.00" textLength="17.3" lengthAdjust="spacingAndGlyphs">VAC-</tspan><tspan x="135.30" textLength="19.1" lengthAdjust="spacingAndGlyphs">CP1_</tspan><tspan x="154.40" textLength="39.3" lengthAdjust="spacingAndGlyphs">OVERFILL_</tspan><tspan x="193.70" textLength="12.4" lengthAdjust="spacingAndGlyphs">TC_</tspan><tspan x="206.10" textLength="10.0" lengthAdjust="spacingAndGlyphs">A_</tspan><tspan x="216.10" textLength="24.3" lengthAdjust="spacingAndGlyphs">TEMP_</tspan><tspan x="240.40" textLength="20.2" lengthAdjust="spacingAndGlyphs">FIFO_</tspan><tspan x="260.60" textLength="9.9" lengthAdjust="spacingAndGlyphs">A_</tspan><tspan x="270.50" textLength="25.8" lengthAdjust="spacingAndGlyphs">DELTA_</tspan><tspan x="296.30" textLength="20.3" lengthAdjust="spacingAndGlyphs">DEGC</tspan><tspan> </tspan><tspan x="318.90" textLength="33.4" lengthAdjust="spacingAndGlyphs">[s-trend]</tspan></text>
<rect x="85.5" y="317.0" width="13" height="13" rx="1.2" fill="#0080ff"/>
<text y="327.00" font-size="10.1" fill="#0a0a0a" stroke="#0a0a0a" stroke-width="0.2"><tspan x="105.10" textLength="12.9" lengthAdjust="spacingAndGlyphs">H1:</tspan><tspan x="118.00" textLength="17.3" lengthAdjust="spacingAndGlyphs">VAC-</tspan><tspan x="135.30" textLength="19.1" lengthAdjust="spacingAndGlyphs">CP1_</tspan><tspan x="154.40" textLength="39.3" lengthAdjust="spacingAndGlyphs">OVERFILL_</tspan><tspan x="193.70" textLength="12.4" lengthAdjust="spacingAndGlyphs">TC_</tspan><tspan x="206.10" textLength="10.0" lengthAdjust="spacingAndGlyphs">A_</tspan><tspan x="216.10" textLength="24.3" lengthAdjust="spacingAndGlyphs">TEMP_</tspan><tspan x="240.40" textLength="20.2" lengthAdjust="spacingAndGlyphs">FIFO_</tspan><tspan x="260.60" textLength="9.9" lengthAdjust="spacingAndGlyphs">B_</tspan><tspan x="270.50" textLength="25.8" lengthAdjust="spacingAndGlyphs">DELTA_</tspan><tspan x="296.30" textLength="20.3" lengthAdjust="spacingAndGlyphs">DEGC</tspan><tspan> </tspan><tspan x="318.90" textLength="33.4" lengthAdjust="spacingAndGlyphs">[s-trend]</tspan></text>
<rect x="85.5" y="336.0" width="13" height="13" rx="1.2" fill="#00bfff"/>
<text y="346.00" font-size="10.1" fill="#0a0a0a" stroke="#0a0a0a" stroke-width="0.2"><tspan x="105.10" textLength="12.9" lengthAdjust="spacingAndGlyphs">H1:</tspan><tspan x="118.00" textLength="17.3" lengthAdjust="spacingAndGlyphs">VAC-</tspan><tspan x="135.30" textLength="19.1" lengthAdjust="spacingAndGlyphs">CP1_</tspan><tspan x="154.40" textLength="39.3" lengthAdjust="spacingAndGlyphs">OVERFILL_</tspan><tspan x="193.70" textLength="12.4" lengthAdjust="spacingAndGlyphs">TC_</tspan><tspan x="206.10" textLength="10.0" lengthAdjust="spacingAndGlyphs">A_</tspan><tspan x="216.10" textLength="24.3" lengthAdjust="spacingAndGlyphs">TEMP_</tspan><tspan x="240.40" textLength="20.2" lengthAdjust="spacingAndGlyphs">FIFO_</tspan><tspan x="260.60" textLength="9.9" lengthAdjust="spacingAndGlyphs">C_</tspan><tspan x="270.50" textLength="25.8" lengthAdjust="spacingAndGlyphs">DELTA_</tspan><tspan x="296.30" textLength="20.3" lengthAdjust="spacingAndGlyphs">DEGC</tspan><tspan> </tspan><tspan x="318.90" textLength="33.4" lengthAdjust="spacingAndGlyphs">[s-trend]</tspan></text>
<rect x="85.5" y="355.0" width="13" height="13" rx="1.2" fill="#b400be"/>
<text y="365.00" font-size="10.1" fill="#0a0a0a" stroke="#0a0a0a" stroke-width="0.2"><tspan x="105.10" textLength="12.9" lengthAdjust="spacingAndGlyphs">H1:</tspan><tspan x="118.00" textLength="17.3" lengthAdjust="spacingAndGlyphs">VAC-</tspan><tspan x="135.30" textLength="19.1" lengthAdjust="spacingAndGlyphs">CP1_</tspan><tspan x="154.40" textLength="39.3" lengthAdjust="spacingAndGlyphs">OVERFILL_</tspan><tspan x="193.70" textLength="12.4" lengthAdjust="spacingAndGlyphs">TC_</tspan><tspan x="206.10" textLength="10.0" lengthAdjust="spacingAndGlyphs">B_</tspan><tspan x="216.10" textLength="24.3" lengthAdjust="spacingAndGlyphs">TEMP_</tspan><tspan x="240.40" textLength="20.2" lengthAdjust="spacingAndGlyphs">FIFO_</tspan><tspan x="260.60" textLength="9.9" lengthAdjust="spacingAndGlyphs">A_</tspan><tspan x="270.50" textLength="25.8" lengthAdjust="spacingAndGlyphs">DELTA_</tspan><tspan x="296.30" textLength="20.3" lengthAdjust="spacingAndGlyphs">DEGC</tspan><tspan> </tspan><tspan x="318.90" textLength="33.4" lengthAdjust="spacingAndGlyphs">[s-trend]</tspan></text>
<rect x="85.5" y="374.0" width="13" height="13" rx="1.2" fill="#bb66bb"/>
<text y="384.00" font-size="10.1" fill="#0a0a0a" stroke="#0a0a0a" stroke-width="0.2"><tspan x="105.10" textLength="12.9" lengthAdjust="spacingAndGlyphs">H1:</tspan><tspan x="118.00" textLength="17.3" lengthAdjust="spacingAndGlyphs">VAC-</tspan><tspan x="135.30" textLength="19.1" lengthAdjust="spacingAndGlyphs">CP1_</tspan><tspan x="154.40" textLength="39.3" lengthAdjust="spacingAndGlyphs">OVERFILL_</tspan><tspan x="193.70" textLength="12.4" lengthAdjust="spacingAndGlyphs">TC_</tspan><tspan x="206.10" textLength="10.0" lengthAdjust="spacingAndGlyphs">B_</tspan><tspan x="216.10" textLength="24.3" lengthAdjust="spacingAndGlyphs">TEMP_</tspan><tspan x="240.40" textLength="20.2" lengthAdjust="spacingAndGlyphs">FIFO_</tspan><tspan x="260.60" textLength="9.9" lengthAdjust="spacingAndGlyphs">B_</tspan><tspan x="270.50" textLength="25.8" lengthAdjust="spacingAndGlyphs">DELTA_</tspan><tspan x="296.30" textLength="20.3" lengthAdjust="spacingAndGlyphs">DEGC</tspan><tspan> </tspan><tspan x="318.90" textLength="33.4" lengthAdjust="spacingAndGlyphs">[s-trend]</tspan></text>
<rect x="85.5" y="393.0" width="13" height="13" rx="1.2" fill="#bba0bb"/>
<text y="403.00" font-size="10.1" fill="#0a0a0a" stroke="#0a0a0a" stroke-width="0.2"><tspan x="105.10" textLength="12.9" lengthAdjust="spacingAndGlyphs">H1:</tspan><tspan x="118.00" textLength="17.3" lengthAdjust="spacingAndGlyphs">VAC-</tspan><tspan x="135.30" textLength="19.1" lengthAdjust="spacingAndGlyphs">CP1_</tspan><tspan x="154.40" textLength="39.3" lengthAdjust="spacingAndGlyphs">OVERFILL_</tspan><tspan x="193.70" textLength="12.4" lengthAdjust="spacingAndGlyphs">TC_</tspan><tspan x="206.10" textLength="10.0" lengthAdjust="spacingAndGlyphs">B_</tspan><tspan x="216.10" textLength="24.3" lengthAdjust="spacingAndGlyphs">TEMP_</tspan><tspan x="240.40" textLength="20.2" lengthAdjust="spacingAndGlyphs">FIFO_</tspan><tspan x="260.60" textLength="9.9" lengthAdjust="spacingAndGlyphs">C_</tspan><tspan x="270.50" textLength="25.8" lengthAdjust="spacingAndGlyphs">DELTA_</tspan><tspan x="296.30" textLength="20.3" lengthAdjust="spacingAndGlyphs">DEGC</tspan><tspan> </tspan><tspan x="318.90" textLength="33.4" lengthAdjust="spacingAndGlyphs">[s-trend]</tspan></text>
<line x1="66.5" y1="18" x2="66.5" y2="249" stroke="#787878" stroke-width="1"/>
<line x1="66" y1="248.5" x2="786.5" y2="248.5" stroke="#787878" stroke-width="1"/>
<line x1="66.5" y1="278" x2="66.5" y2="510" stroke="#787878" stroke-width="1"/>
<line x1="66" y1="509.5" x2="786.5" y2="509.5" stroke="#787878" stroke-width="1"/>
<text x="61.50" y="73.00" font-size="10.1" fill="#000" stroke="#000" stroke-width="0.2" text-anchor="end" textLength="12.2" lengthAdjust="spacingAndGlyphs" >10²</text>
<text x="61.50" y="120.00" font-size="10.1" fill="#000" stroke="#000" stroke-width="0.2" text-anchor="end" textLength="12.0" lengthAdjust="spacingAndGlyphs" >10¹</text>
<text x="61.50" y="168.00" font-size="10.1" fill="#000" stroke="#000" stroke-width="0.2" text-anchor="end" textLength="3.4" lengthAdjust="spacingAndGlyphs" >1</text>
<text x="61.50" y="216.00" font-size="10.1" fill="#000" stroke="#000" stroke-width="0.2" text-anchor="end" textLength="10.7" lengthAdjust="spacingAndGlyphs" >0.1</text>
<text x="61.40" y="493.00" font-size="10.1" fill="#000" stroke="#000" stroke-width="0.2" text-anchor="end" textLength="4.6" lengthAdjust="spacingAndGlyphs" >0</text>
<text x="61.40" y="476.00" font-size="10.1" fill="#000" stroke="#000" stroke-width="0.2" text-anchor="end" textLength="9.1" lengthAdjust="spacingAndGlyphs" >10</text>
<text x="61.40" y="458.00" font-size="10.1" fill="#000" stroke="#000" stroke-width="0.2" text-anchor="end" textLength="9.1" lengthAdjust="spacingAndGlyphs" >20</text>
<text x="61.40" y="441.00" font-size="10.1" fill="#000" stroke="#000" stroke-width="0.2" text-anchor="end" textLength="9.1" lengthAdjust="spacingAndGlyphs" >30</text>
<text x="61.40" y="423.00" font-size="10.1" fill="#000" stroke="#000" stroke-width="0.2" text-anchor="end" textLength="9.1" lengthAdjust="spacingAndGlyphs" >40</text>
<text x="61.40" y="406.00" font-size="10.1" fill="#000" stroke="#000" stroke-width="0.2" text-anchor="end" textLength="9.1" lengthAdjust="spacingAndGlyphs" >50</text>
<text x="61.40" y="388.00" font-size="10.1" fill="#000" stroke="#000" stroke-width="0.2" text-anchor="end" textLength="9.1" lengthAdjust="spacingAndGlyphs" >60</text>
<text x="61.40" y="370.00" font-size="10.1" fill="#000" stroke="#000" stroke-width="0.2" text-anchor="end" textLength="9.1" lengthAdjust="spacingAndGlyphs" >70</text>
<text x="61.40" y="353.00" font-size="10.1" fill="#000" stroke="#000" stroke-width="0.2" text-anchor="end" textLength="9.1" lengthAdjust="spacingAndGlyphs" >80</text>
<text x="61.40" y="335.00" font-size="10.1" fill="#000" stroke="#000" stroke-width="0.2" text-anchor="end" textLength="9.1" lengthAdjust="spacingAndGlyphs" >90</text>
<text x="61.40" y="318.00" font-size="10.1" fill="#000" stroke="#000" stroke-width="0.2" text-anchor="end" textLength="13.7" lengthAdjust="spacingAndGlyphs" >100</text>
<text x="61.40" y="300.00" font-size="10.1" fill="#000" stroke="#000" stroke-width="0.2" text-anchor="end" textLength="13.7" lengthAdjust="spacingAndGlyphs" >110</text>
<text x="133.22" y="259.00" font-size="10.1" fill="#000" stroke="#000" stroke-width="0.2" text-anchor="start" textLength="47.8" lengthAdjust="spacingAndGlyphs" >Dec 07 2025</text>
<text x="133.03" y="270.00" font-size="10.1" fill="#000" stroke="#000" stroke-width="0.2" text-anchor="start" textLength="48.3" lengthAdjust="spacingAndGlyphs" >09:57:10 PST</text>
<text x="342.65" y="259.00" font-size="10.1" fill="#000" stroke="#000" stroke-width="0.2" text-anchor="start" textLength="47.8" lengthAdjust="spacingAndGlyphs" >Dec 07 2025</text>
<text x="342.45" y="270.00" font-size="10.1" fill="#000" stroke="#000" stroke-width="0.2" text-anchor="start" textLength="48.3" lengthAdjust="spacingAndGlyphs" >10:02:10 PST</text>
<text x="551.48" y="259.00" font-size="10.1" fill="#000" stroke="#000" stroke-width="0.2" text-anchor="start" textLength="47.8" lengthAdjust="spacingAndGlyphs" >Dec 07 2025</text>
<text x="551.27" y="270.00" font-size="10.1" fill="#000" stroke="#000" stroke-width="0.2" text-anchor="start" textLength="48.3" lengthAdjust="spacingAndGlyphs" >10:07:10 PST</text>
<text x="133.22" y="519.00" font-size="10.1" fill="#000" stroke="#000" stroke-width="0.2" text-anchor="start" textLength="47.8" lengthAdjust="spacingAndGlyphs" >Dec 07 2025</text>
<text x="133.03" y="530.00" font-size="10.1" fill="#000" stroke="#000" stroke-width="0.2" text-anchor="start" textLength="48.3" lengthAdjust="spacingAndGlyphs" >09:57:10 PST</text>
<text x="342.65" y="519.00" font-size="10.1" fill="#000" stroke="#000" stroke-width="0.2" text-anchor="start" textLength="47.8" lengthAdjust="spacingAndGlyphs" >Dec 07 2025</text>
<text x="342.45" y="530.00" font-size="10.1" fill="#000" stroke="#000" stroke-width="0.2" text-anchor="start" textLength="48.3" lengthAdjust="spacingAndGlyphs" >10:02:10 PST</text>
<text x="551.48" y="519.00" font-size="10.1" fill="#000" stroke="#000" stroke-width="0.2" text-anchor="start" textLength="47.8" lengthAdjust="spacingAndGlyphs" >Dec 07 2025</text>
<text x="551.27" y="530.00" font-size="10.1" fill="#000" stroke="#000" stroke-width="0.2" text-anchor="start" textLength="48.3" lengthAdjust="spacingAndGlyphs" >10:07:10 PST</text>
<text transform="translate(26.8 134) rotate(-90)" text-anchor="middle" font-size="10.1" fill="#000" stroke="#000" stroke-width="0.2" textLength="25.4" lengthAdjust="spacingAndGlyphs">counts</text>
<text transform="translate(26.8 395) rotate(-90)" text-anchor="middle" font-size="10.1" fill="#000" stroke="#000" stroke-width="0.2" textLength="25.4" lengthAdjust="spacingAndGlyphs">counts</text>
</svg>
</body></html>
